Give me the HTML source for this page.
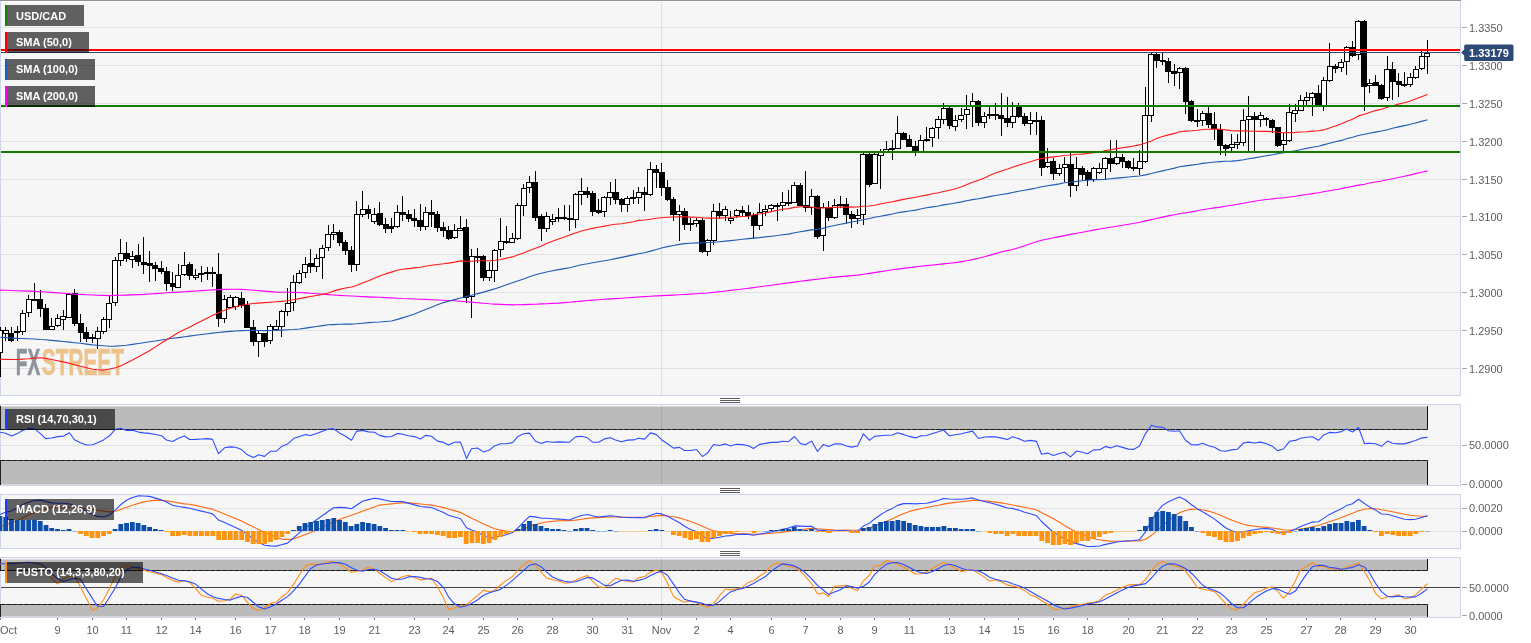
<!DOCTYPE html><html><head><meta charset="utf-8"><title>USD/CAD chart</title><style>
html,body{margin:0;padding:0;background:#fff;width:1531px;height:643px;overflow:hidden}
svg{display:block;will-change:transform}
text{font-family:"Liberation Sans",Arial,sans-serif}
</style></head><body>
<svg width="1531" height="643" viewBox="0 0 1531 643" shape-rendering="crispEdges">
<rect x="0" y="0" width="1531" height="643" fill="#ffffff"/>
<rect x="0.5" y="0.5" width="1460" height="395" fill="#f6f6f6" stroke="#cdd5e8" stroke-width="1"/>
<rect x="0.5" y="404.5" width="1460" height="81" fill="#f6f6f6" stroke="#cdd5e8" stroke-width="1"/>
<rect x="0.5" y="494.5" width="1460" height="54" fill="#f6f6f6" stroke="#cdd5e8" stroke-width="1"/>
<rect x="0.5" y="557.5" width="1460" height="60" fill="#f6f6f6" stroke="#cdd5e8" stroke-width="1"/>
<rect x="0" y="0" width="1461" height="1" fill="#929292"/>
<rect x="1" y="1" width="1459" height="1" fill="#ffffff"/>
<rect x="1" y="27" width="1459" height="1" fill="#e2e2e2"/>
<rect x="1" y="65" width="1459" height="1" fill="#e2e2e2"/>
<rect x="1" y="103" width="1459" height="1" fill="#e2e2e2"/>
<rect x="1" y="141" width="1459" height="1" fill="#e2e2e2"/>
<rect x="1" y="179" width="1459" height="1" fill="#e2e2e2"/>
<rect x="1" y="216" width="1459" height="1" fill="#e2e2e2"/>
<rect x="1" y="254" width="1459" height="1" fill="#e2e2e2"/>
<rect x="1" y="292" width="1459" height="1" fill="#e2e2e2"/>
<rect x="1" y="330" width="1459" height="1" fill="#e2e2e2"/>
<rect x="1" y="368" width="1459" height="1" fill="#e2e2e2"/>
<rect x="661" y="2" width="1" height="393" fill="#e0e0e0"/>
<g font-family="DejaVu Sans Condensed,DejaVu Sans,sans-serif" font-weight="bold" font-size="36">
<text x="15.8" y="374.6" textLength="24.4" lengthAdjust="spacingAndGlyphs" fill="#8f939c" stroke="#8f939c" stroke-width="0.6">FX</text>
<text x="41.8" y="374.6" textLength="82.2" lengthAdjust="spacingAndGlyphs" fill="#edc28d" stroke="#edc28d" stroke-width="0.6">STREET</text>
</g>
<g><rect x="0" y="327" width="1" height="50" fill="#000"/><rect x="-3" y="330" width="6" height="23" fill="#000"/><rect x="5" y="327" width="1" height="14" fill="#000"/><rect x="3" y="330" width="6" height="4" fill="#000"/><rect x="11" y="327" width="1" height="15" fill="#000"/><rect x="8" y="333" width="6" height="8" fill="#000"/><rect x="17" y="326" width="1" height="15" fill="#000"/><rect x="14" y="331" width="6" height="2" fill="#000"/><rect x="22" y="310" width="1" height="25" fill="#000"/><rect x="20" y="313" width="6" height="19" fill="#000"/><rect x="28" y="295" width="1" height="22" fill="#000"/><rect x="26" y="299" width="6" height="14" fill="#000"/><rect x="34" y="283" width="1" height="18" fill="#000"/><rect x="31" y="299" width="6" height="2" fill="#000"/><rect x="40" y="290" width="1" height="27" fill="#000"/><rect x="37" y="299" width="6" height="10" fill="#000"/><rect x="45" y="304" width="1" height="26" fill="#000"/><rect x="43" y="308" width="6" height="22" fill="#000"/><rect x="51" y="318" width="1" height="12" fill="#000"/><rect x="49" y="326" width="6" height="4" fill="#000"/><rect x="57" y="314" width="1" height="13" fill="#000"/><rect x="55" y="318" width="6" height="8" fill="#000"/><rect x="63" y="310" width="1" height="20" fill="#000"/><rect x="60" y="316" width="6" height="4" fill="#000"/><rect x="69" y="293" width="1" height="25" fill="#000"/><rect x="66" y="294" width="6" height="24" fill="#000"/><rect x="74" y="289" width="1" height="37" fill="#000"/><rect x="72" y="293" width="6" height="31" fill="#000"/><rect x="80" y="314" width="1" height="28" fill="#000"/><rect x="78" y="323" width="6" height="10" fill="#000"/><rect x="86" y="327" width="1" height="15" fill="#000"/><rect x="83" y="332" width="6" height="7" fill="#000"/><rect x="92" y="334" width="1" height="9" fill="#000"/><rect x="89" y="337" width="6" height="2" fill="#000"/><rect x="97" y="327" width="1" height="22" fill="#000"/><rect x="95" y="331" width="6" height="8" fill="#000"/><rect x="103" y="317" width="1" height="17" fill="#000"/><rect x="101" y="319" width="6" height="13" fill="#000"/><rect x="109" y="296" width="1" height="32" fill="#000"/><rect x="106" y="303" width="6" height="17" fill="#000"/><rect x="115" y="257" width="1" height="49" fill="#000"/><rect x="112" y="260" width="6" height="43" fill="#000"/><rect x="120" y="239" width="1" height="27" fill="#000"/><rect x="118" y="253" width="6" height="8" fill="#000"/><rect x="126" y="242" width="1" height="20" fill="#000"/><rect x="124" y="253" width="6" height="6" fill="#000"/><rect x="132" y="251" width="1" height="17" fill="#000"/><rect x="129" y="256" width="6" height="4" fill="#000"/><rect x="138" y="244" width="1" height="22" fill="#000"/><rect x="135" y="255" width="6" height="7" fill="#000"/><rect x="143" y="237" width="1" height="37" fill="#000"/><rect x="141" y="262" width="6" height="3" fill="#000"/><rect x="149" y="251" width="1" height="31" fill="#000"/><rect x="147" y="263" width="6" height="3" fill="#000"/><rect x="155" y="262" width="1" height="19" fill="#000"/><rect x="152" y="265" width="6" height="4" fill="#000"/><rect x="161" y="261" width="1" height="13" fill="#000"/><rect x="158" y="268" width="6" height="4" fill="#000"/><rect x="166" y="267" width="1" height="24" fill="#000"/><rect x="164" y="271" width="6" height="13" fill="#000"/><rect x="172" y="272" width="1" height="19" fill="#000"/><rect x="170" y="283" width="6" height="4" fill="#000"/><rect x="178" y="264" width="1" height="24" fill="#000"/><rect x="175" y="275" width="6" height="13" fill="#000"/><rect x="184" y="252" width="1" height="24" fill="#000"/><rect x="181" y="265" width="6" height="10" fill="#000"/><rect x="189" y="262" width="1" height="18" fill="#000"/><rect x="187" y="264" width="6" height="12" fill="#000"/><rect x="195" y="269" width="1" height="11" fill="#000"/><rect x="193" y="275" width="6" height="3" fill="#000"/><rect x="201" y="266" width="1" height="16" fill="#000"/><rect x="198" y="273" width="6" height="2" fill="#000"/><rect x="207" y="267" width="1" height="13" fill="#000"/><rect x="204" y="272" width="6" height="2" fill="#000"/><rect x="212" y="267" width="1" height="20" fill="#000"/><rect x="210" y="272" width="6" height="2" fill="#000"/><rect x="218" y="253" width="1" height="74" fill="#000"/><rect x="216" y="274" width="6" height="45" fill="#000"/><rect x="224" y="295" width="1" height="28" fill="#000"/><rect x="221" y="299" width="6" height="20" fill="#000"/><rect x="230" y="295" width="1" height="13" fill="#000"/><rect x="227" y="297" width="6" height="11" fill="#000"/><rect x="235" y="296" width="1" height="14" fill="#000"/><rect x="233" y="297" width="6" height="10" fill="#000"/><rect x="241" y="292" width="1" height="16" fill="#000"/><rect x="239" y="298" width="6" height="8" fill="#000"/><rect x="247" y="301" width="1" height="27" fill="#000"/><rect x="244" y="305" width="6" height="23" fill="#000"/><rect x="253" y="320" width="1" height="26" fill="#000"/><rect x="250" y="327" width="6" height="15" fill="#000"/><rect x="258" y="331" width="1" height="26" fill="#000"/><rect x="256" y="333" width="6" height="9" fill="#000"/><rect x="264" y="333" width="1" height="14" fill="#000"/><rect x="262" y="333" width="6" height="9" fill="#000"/><rect x="270" y="324" width="1" height="20" fill="#000"/><rect x="267" y="326" width="6" height="15" fill="#000"/><rect x="276" y="320" width="1" height="11" fill="#000"/><rect x="273" y="326" width="6" height="4" fill="#000"/><rect x="281" y="310" width="1" height="27" fill="#000"/><rect x="279" y="311" width="6" height="16" fill="#000"/><rect x="287" y="288" width="1" height="28" fill="#000"/><rect x="285" y="303" width="6" height="9" fill="#000"/><rect x="293" y="275" width="1" height="36" fill="#000"/><rect x="290" y="282" width="6" height="21" fill="#000"/><rect x="299" y="270" width="1" height="14" fill="#000"/><rect x="296" y="273" width="6" height="10" fill="#000"/><rect x="305" y="257" width="1" height="21" fill="#000"/><rect x="302" y="264" width="6" height="9" fill="#000"/><rect x="310" y="249" width="1" height="24" fill="#000"/><rect x="308" y="263" width="6" height="4" fill="#000"/><rect x="316" y="254" width="1" height="18" fill="#000"/><rect x="314" y="258" width="6" height="9" fill="#000"/><rect x="322" y="245" width="1" height="34" fill="#000"/><rect x="319" y="248" width="6" height="10" fill="#000"/><rect x="328" y="225" width="1" height="26" fill="#000"/><rect x="325" y="234" width="6" height="14" fill="#000"/><rect x="333" y="224" width="1" height="16" fill="#000"/><rect x="331" y="232" width="6" height="3" fill="#000"/><rect x="339" y="230" width="1" height="16" fill="#000"/><rect x="337" y="232" width="6" height="11" fill="#000"/><rect x="345" y="240" width="1" height="15" fill="#000"/><rect x="342" y="242" width="6" height="9" fill="#000"/><rect x="351" y="246" width="1" height="26" fill="#000"/><rect x="348" y="250" width="6" height="15" fill="#000"/><rect x="356" y="201" width="1" height="70" fill="#000"/><rect x="354" y="214" width="6" height="51" fill="#000"/><rect x="362" y="191" width="1" height="26" fill="#000"/><rect x="360" y="209" width="6" height="6" fill="#000"/><rect x="368" y="205" width="1" height="14" fill="#000"/><rect x="365" y="209" width="6" height="5" fill="#000"/><rect x="374" y="208" width="1" height="16" fill="#000"/><rect x="371" y="214" width="6" height="8" fill="#000"/><rect x="379" y="202" width="1" height="24" fill="#000"/><rect x="377" y="213" width="6" height="12" fill="#000"/><rect x="385" y="218" width="1" height="15" fill="#000"/><rect x="383" y="224" width="6" height="5" fill="#000"/><rect x="391" y="218" width="1" height="15" fill="#000"/><rect x="388" y="226" width="6" height="3" fill="#000"/><rect x="397" y="205" width="1" height="23" fill="#000"/><rect x="394" y="212" width="6" height="15" fill="#000"/><rect x="402" y="196" width="1" height="25" fill="#000"/><rect x="400" y="212" width="6" height="3" fill="#000"/><rect x="408" y="210" width="1" height="12" fill="#000"/><rect x="406" y="214" width="6" height="5" fill="#000"/><rect x="414" y="209" width="1" height="18" fill="#000"/><rect x="411" y="218" width="6" height="3" fill="#000"/><rect x="420" y="204" width="1" height="27" fill="#000"/><rect x="417" y="220" width="6" height="7" fill="#000"/><rect x="425" y="207" width="1" height="23" fill="#000"/><rect x="423" y="212" width="6" height="15" fill="#000"/><rect x="431" y="200" width="1" height="27" fill="#000"/><rect x="429" y="212" width="6" height="3" fill="#000"/><rect x="437" y="211" width="1" height="21" fill="#000"/><rect x="434" y="214" width="6" height="14" fill="#000"/><rect x="443" y="222" width="1" height="15" fill="#000"/><rect x="440" y="227" width="6" height="4" fill="#000"/><rect x="448" y="226" width="1" height="14" fill="#000"/><rect x="446" y="230" width="6" height="9" fill="#000"/><rect x="454" y="224" width="1" height="15" fill="#000"/><rect x="452" y="230" width="6" height="8" fill="#000"/><rect x="460" y="216" width="1" height="15" fill="#000"/><rect x="457" y="228" width="6" height="3" fill="#000"/><rect x="466" y="219" width="1" height="84" fill="#000"/><rect x="463" y="227" width="6" height="71" fill="#000"/><rect x="471" y="249" width="1" height="69" fill="#000"/><rect x="469" y="256" width="6" height="41" fill="#000"/><rect x="477" y="248" width="1" height="15" fill="#000"/><rect x="475" y="256" width="6" height="2" fill="#000"/><rect x="483" y="255" width="1" height="26" fill="#000"/><rect x="480" y="256" width="6" height="22" fill="#000"/><rect x="489" y="262" width="1" height="19" fill="#000"/><rect x="486" y="270" width="6" height="8" fill="#000"/><rect x="494" y="249" width="1" height="33" fill="#000"/><rect x="492" y="250" width="6" height="21" fill="#000"/><rect x="500" y="218" width="1" height="39" fill="#000"/><rect x="498" y="241" width="6" height="9" fill="#000"/><rect x="506" y="226" width="1" height="18" fill="#000"/><rect x="503" y="241" width="6" height="2" fill="#000"/><rect x="512" y="233" width="1" height="10" fill="#000"/><rect x="509" y="238" width="6" height="5" fill="#000"/><rect x="517" y="203" width="1" height="37" fill="#000"/><rect x="515" y="205" width="6" height="34" fill="#000"/><rect x="523" y="184" width="1" height="32" fill="#000"/><rect x="521" y="188" width="6" height="18" fill="#000"/><rect x="529" y="176" width="1" height="17" fill="#000"/><rect x="526" y="182" width="6" height="6" fill="#000"/><rect x="535" y="171" width="1" height="50" fill="#000"/><rect x="532" y="182" width="6" height="36" fill="#000"/><rect x="541" y="214" width="1" height="27" fill="#000"/><rect x="538" y="216" width="6" height="13" fill="#000"/><rect x="546" y="212" width="1" height="20" fill="#000"/><rect x="544" y="216" width="6" height="13" fill="#000"/><rect x="552" y="214" width="1" height="11" fill="#000"/><rect x="550" y="219" width="6" height="3" fill="#000"/><rect x="558" y="208" width="1" height="14" fill="#000"/><rect x="555" y="217" width="6" height="2" fill="#000"/><rect x="564" y="205" width="1" height="15" fill="#000"/><rect x="561" y="217" width="6" height="2" fill="#000"/><rect x="569" y="205" width="1" height="26" fill="#000"/><rect x="567" y="218" width="6" height="2" fill="#000"/><rect x="575" y="193" width="1" height="35" fill="#000"/><rect x="573" y="194" width="6" height="26" fill="#000"/><rect x="581" y="178" width="1" height="27" fill="#000"/><rect x="578" y="191" width="6" height="4" fill="#000"/><rect x="587" y="187" width="1" height="11" fill="#000"/><rect x="584" y="191" width="6" height="4" fill="#000"/><rect x="592" y="191" width="1" height="25" fill="#000"/><rect x="590" y="193" width="6" height="19" fill="#000"/><rect x="598" y="199" width="1" height="15" fill="#000"/><rect x="596" y="210" width="6" height="3" fill="#000"/><rect x="604" y="196" width="1" height="21" fill="#000"/><rect x="601" y="197" width="6" height="15" fill="#000"/><rect x="610" y="182" width="1" height="23" fill="#000"/><rect x="607" y="192" width="6" height="6" fill="#000"/><rect x="615" y="179" width="1" height="25" fill="#000"/><rect x="613" y="192" width="6" height="8" fill="#000"/><rect x="621" y="198" width="1" height="14" fill="#000"/><rect x="619" y="199" width="6" height="6" fill="#000"/><rect x="627" y="196" width="1" height="16" fill="#000"/><rect x="624" y="198" width="6" height="7" fill="#000"/><rect x="633" y="190" width="1" height="14" fill="#000"/><rect x="630" y="197" width="6" height="2" fill="#000"/><rect x="638" y="187" width="1" height="17" fill="#000"/><rect x="636" y="192" width="6" height="6" fill="#000"/><rect x="644" y="187" width="1" height="24" fill="#000"/><rect x="642" y="192" width="6" height="3" fill="#000"/><rect x="650" y="162" width="1" height="34" fill="#000"/><rect x="647" y="169" width="6" height="26" fill="#000"/><rect x="656" y="165" width="1" height="23" fill="#000"/><rect x="653" y="169" width="6" height="4" fill="#000"/><rect x="661" y="163" width="1" height="33" fill="#000"/><rect x="659" y="172" width="6" height="16" fill="#000"/><rect x="667" y="180" width="1" height="21" fill="#000"/><rect x="665" y="187" width="6" height="13" fill="#000"/><rect x="673" y="197" width="1" height="24" fill="#000"/><rect x="670" y="199" width="6" height="16" fill="#000"/><rect x="679" y="205" width="1" height="36" fill="#000"/><rect x="676" y="211" width="6" height="4" fill="#000"/><rect x="684" y="208" width="1" height="22" fill="#000"/><rect x="682" y="211" width="6" height="14" fill="#000"/><rect x="690" y="218" width="1" height="13" fill="#000"/><rect x="688" y="223" width="6" height="2" fill="#000"/><rect x="696" y="218" width="1" height="9" fill="#000"/><rect x="693" y="220" width="6" height="4" fill="#000"/><rect x="702" y="218" width="1" height="35" fill="#000"/><rect x="699" y="220" width="6" height="32" fill="#000"/><rect x="707" y="239" width="1" height="17" fill="#000"/><rect x="705" y="240" width="6" height="12" fill="#000"/><rect x="713" y="204" width="1" height="41" fill="#000"/><rect x="711" y="211" width="6" height="30" fill="#000"/><rect x="719" y="203" width="1" height="16" fill="#000"/><rect x="716" y="211" width="6" height="5" fill="#000"/><rect x="725" y="206" width="1" height="15" fill="#000"/><rect x="722" y="209" width="6" height="7" fill="#000"/><rect x="730" y="211" width="1" height="13" fill="#000"/><rect x="728" y="218" width="6" height="3" fill="#000"/><rect x="736" y="209" width="1" height="9" fill="#000"/><rect x="734" y="210" width="6" height="6" fill="#000"/><rect x="742" y="206" width="1" height="10" fill="#000"/><rect x="739" y="210" width="6" height="3" fill="#000"/><rect x="748" y="205" width="1" height="14" fill="#000"/><rect x="745" y="212" width="6" height="4" fill="#000"/><rect x="753" y="213" width="1" height="26" fill="#000"/><rect x="751" y="215" width="6" height="11" fill="#000"/><rect x="759" y="203" width="1" height="27" fill="#000"/><rect x="757" y="212" width="6" height="14" fill="#000"/><rect x="765" y="205" width="1" height="11" fill="#000"/><rect x="762" y="209" width="6" height="3" fill="#000"/><rect x="771" y="204" width="1" height="7" fill="#000"/><rect x="768" y="205" width="6" height="4" fill="#000"/><rect x="777" y="203" width="1" height="18" fill="#000"/><rect x="774" y="205" width="6" height="2" fill="#000"/><rect x="782" y="192" width="1" height="19" fill="#000"/><rect x="780" y="202" width="6" height="4" fill="#000"/><rect x="788" y="190" width="1" height="16" fill="#000"/><rect x="786" y="202" width="6" height="2" fill="#000"/><rect x="794" y="182" width="1" height="21" fill="#000"/><rect x="791" y="185" width="6" height="18" fill="#000"/><rect x="800" y="183" width="1" height="23" fill="#000"/><rect x="797" y="185" width="6" height="21" fill="#000"/><rect x="805" y="171" width="1" height="41" fill="#000"/><rect x="803" y="205" width="6" height="3" fill="#000"/><rect x="811" y="189" width="1" height="26" fill="#000"/><rect x="809" y="196" width="6" height="12" fill="#000"/><rect x="817" y="195" width="1" height="44" fill="#000"/><rect x="814" y="196" width="6" height="41" fill="#000"/><rect x="823" y="203" width="1" height="48" fill="#000"/><rect x="820" y="207" width="6" height="29" fill="#000"/><rect x="828" y="201" width="1" height="20" fill="#000"/><rect x="826" y="208" width="6" height="10" fill="#000"/><rect x="834" y="199" width="1" height="20" fill="#000"/><rect x="832" y="205" width="6" height="13" fill="#000"/><rect x="840" y="196" width="1" height="12" fill="#000"/><rect x="837" y="204" width="6" height="2" fill="#000"/><rect x="846" y="198" width="1" height="25" fill="#000"/><rect x="843" y="204" width="6" height="11" fill="#000"/><rect x="851" y="211" width="1" height="17" fill="#000"/><rect x="849" y="214" width="6" height="5" fill="#000"/><rect x="857" y="209" width="1" height="15" fill="#000"/><rect x="855" y="215" width="6" height="4" fill="#000"/><rect x="863" y="152" width="1" height="73" fill="#000"/><rect x="860" y="154" width="6" height="61" fill="#000"/><rect x="869" y="152" width="1" height="35" fill="#000"/><rect x="866" y="154" width="6" height="31" fill="#000"/><rect x="874" y="152" width="1" height="32" fill="#000"/><rect x="872" y="154" width="6" height="30" fill="#000"/><rect x="880" y="149" width="1" height="40" fill="#000"/><rect x="878" y="151" width="6" height="5" fill="#000"/><rect x="886" y="141" width="1" height="11" fill="#000"/><rect x="883" y="149" width="6" height="3" fill="#000"/><rect x="892" y="140" width="1" height="20" fill="#000"/><rect x="889" y="148" width="6" height="2" fill="#000"/><rect x="897" y="116" width="1" height="33" fill="#000"/><rect x="895" y="133" width="6" height="16" fill="#000"/><rect x="903" y="132" width="1" height="8" fill="#000"/><rect x="901" y="133" width="6" height="7" fill="#000"/><rect x="909" y="135" width="1" height="12" fill="#000"/><rect x="906" y="139" width="6" height="8" fill="#000"/><rect x="915" y="141" width="1" height="15" fill="#000"/><rect x="912" y="146" width="6" height="6" fill="#000"/><rect x="920" y="135" width="1" height="17" fill="#000"/><rect x="918" y="140" width="6" height="12" fill="#000"/><rect x="926" y="127" width="1" height="15" fill="#000"/><rect x="924" y="139" width="6" height="2" fill="#000"/><rect x="932" y="127" width="1" height="20" fill="#000"/><rect x="929" y="128" width="6" height="10" fill="#000"/><rect x="938" y="116" width="1" height="23" fill="#000"/><rect x="935" y="119" width="6" height="9" fill="#000"/><rect x="943" y="103" width="1" height="21" fill="#000"/><rect x="941" y="108" width="6" height="12" fill="#000"/><rect x="949" y="107" width="1" height="22" fill="#000"/><rect x="947" y="108" width="6" height="18" fill="#000"/><rect x="955" y="115" width="1" height="16" fill="#000"/><rect x="952" y="120" width="6" height="7" fill="#000"/><rect x="961" y="108" width="1" height="14" fill="#000"/><rect x="958" y="115" width="6" height="5" fill="#000"/><rect x="966" y="95" width="1" height="34" fill="#000"/><rect x="964" y="109" width="6" height="6" fill="#000"/><rect x="972" y="93" width="1" height="34" fill="#000"/><rect x="970" y="101" width="6" height="5" fill="#000"/><rect x="978" y="100" width="1" height="26" fill="#000"/><rect x="975" y="101" width="6" height="22" fill="#000"/><rect x="984" y="112" width="1" height="16" fill="#000"/><rect x="981" y="116" width="6" height="7" fill="#000"/><rect x="989" y="107" width="1" height="12" fill="#000"/><rect x="987" y="114" width="6" height="2" fill="#000"/><rect x="995" y="103" width="1" height="17" fill="#000"/><rect x="993" y="114" width="6" height="2" fill="#000"/><rect x="1001" y="93" width="1" height="43" fill="#000"/><rect x="998" y="115" width="6" height="4" fill="#000"/><rect x="1007" y="97" width="1" height="30" fill="#000"/><rect x="1004" y="118" width="6" height="5" fill="#000"/><rect x="1012" y="102" width="1" height="26" fill="#000"/><rect x="1010" y="116" width="6" height="7" fill="#000"/><rect x="1018" y="103" width="1" height="15" fill="#000"/><rect x="1016" y="107" width="6" height="10" fill="#000"/><rect x="1024" y="113" width="1" height="13" fill="#000"/><rect x="1022" y="116" width="6" height="8" fill="#000"/><rect x="1030" y="112" width="1" height="23" fill="#000"/><rect x="1027" y="120" width="6" height="4" fill="#000"/><rect x="1036" y="112" width="1" height="23" fill="#000"/><rect x="1033" y="120" width="6" height="2" fill="#000"/><rect x="1041" y="116" width="1" height="60" fill="#000"/><rect x="1039" y="120" width="6" height="48" fill="#000"/><rect x="1047" y="148" width="1" height="20" fill="#000"/><rect x="1045" y="162" width="6" height="5" fill="#000"/><rect x="1053" y="158" width="1" height="22" fill="#000"/><rect x="1050" y="161" width="6" height="13" fill="#000"/><rect x="1059" y="164" width="1" height="12" fill="#000"/><rect x="1056" y="168" width="6" height="6" fill="#000"/><rect x="1064" y="157" width="1" height="25" fill="#000"/><rect x="1062" y="164" width="6" height="4" fill="#000"/><rect x="1070" y="151" width="1" height="46" fill="#000"/><rect x="1068" y="164" width="6" height="22" fill="#000"/><rect x="1076" y="157" width="1" height="34" fill="#000"/><rect x="1073" y="168" width="6" height="18" fill="#000"/><rect x="1082" y="166" width="1" height="14" fill="#000"/><rect x="1079" y="168" width="6" height="7" fill="#000"/><rect x="1087" y="170" width="1" height="16" fill="#000"/><rect x="1085" y="172" width="6" height="8" fill="#000"/><rect x="1093" y="167" width="1" height="15" fill="#000"/><rect x="1091" y="168" width="6" height="12" fill="#000"/><rect x="1099" y="163" width="1" height="11" fill="#000"/><rect x="1096" y="168" width="6" height="5" fill="#000"/><rect x="1105" y="157" width="1" height="23" fill="#000"/><rect x="1102" y="158" width="6" height="11" fill="#000"/><rect x="1110" y="140" width="1" height="32" fill="#000"/><rect x="1108" y="158" width="6" height="6" fill="#000"/><rect x="1116" y="140" width="1" height="25" fill="#000"/><rect x="1114" y="157" width="6" height="7" fill="#000"/><rect x="1122" y="154" width="1" height="14" fill="#000"/><rect x="1119" y="157" width="6" height="5" fill="#000"/><rect x="1128" y="160" width="1" height="9" fill="#000"/><rect x="1125" y="161" width="6" height="7" fill="#000"/><rect x="1133" y="158" width="1" height="13" fill="#000"/><rect x="1131" y="167" width="6" height="2" fill="#000"/><rect x="1139" y="150" width="1" height="25" fill="#000"/><rect x="1137" y="161" width="6" height="8" fill="#000"/><rect x="1145" y="87" width="1" height="76" fill="#000"/><rect x="1142" y="115" width="6" height="47" fill="#000"/><rect x="1151" y="53" width="1" height="69" fill="#000"/><rect x="1148" y="54" width="6" height="62" fill="#000"/><rect x="1156" y="52" width="1" height="16" fill="#000"/><rect x="1154" y="54" width="6" height="7" fill="#000"/><rect x="1162" y="52" width="1" height="13" fill="#000"/><rect x="1160" y="60" width="6" height="2" fill="#000"/><rect x="1168" y="58" width="1" height="25" fill="#000"/><rect x="1165" y="61" width="6" height="11" fill="#000"/><rect x="1174" y="64" width="1" height="22" fill="#000"/><rect x="1171" y="71" width="6" height="3" fill="#000"/><rect x="1179" y="67" width="1" height="22" fill="#000"/><rect x="1177" y="68" width="6" height="5" fill="#000"/><rect x="1185" y="67" width="1" height="47" fill="#000"/><rect x="1183" y="68" width="6" height="34" fill="#000"/><rect x="1191" y="100" width="1" height="22" fill="#000"/><rect x="1188" y="101" width="6" height="20" fill="#000"/><rect x="1197" y="109" width="1" height="18" fill="#000"/><rect x="1194" y="120" width="6" height="2" fill="#000"/><rect x="1202" y="111" width="1" height="15" fill="#000"/><rect x="1200" y="113" width="6" height="8" fill="#000"/><rect x="1208" y="107" width="1" height="21" fill="#000"/><rect x="1206" y="113" width="6" height="12" fill="#000"/><rect x="1214" y="112" width="1" height="28" fill="#000"/><rect x="1211" y="124" width="6" height="5" fill="#000"/><rect x="1220" y="124" width="1" height="31" fill="#000"/><rect x="1217" y="129" width="6" height="17" fill="#000"/><rect x="1225" y="144" width="1" height="12" fill="#000"/><rect x="1223" y="145" width="6" height="4" fill="#000"/><rect x="1231" y="134" width="1" height="17" fill="#000"/><rect x="1229" y="144" width="6" height="4" fill="#000"/><rect x="1237" y="134" width="1" height="15" fill="#000"/><rect x="1234" y="142" width="6" height="3" fill="#000"/><rect x="1243" y="109" width="1" height="37" fill="#000"/><rect x="1240" y="120" width="6" height="23" fill="#000"/><rect x="1248" y="96" width="1" height="55" fill="#000"/><rect x="1246" y="116" width="6" height="4" fill="#000"/><rect x="1254" y="112" width="1" height="39" fill="#000"/><rect x="1252" y="116" width="6" height="4" fill="#000"/><rect x="1260" y="112" width="1" height="15" fill="#000"/><rect x="1258" y="115" width="6" height="5" fill="#000"/><rect x="1266" y="117" width="1" height="9" fill="#000"/><rect x="1263" y="118" width="6" height="2" fill="#000"/><rect x="1272" y="119" width="1" height="14" fill="#000"/><rect x="1269" y="120" width="6" height="8" fill="#000"/><rect x="1277" y="127" width="1" height="20" fill="#000"/><rect x="1275" y="127" width="6" height="19" fill="#000"/><rect x="1283" y="133" width="1" height="19" fill="#000"/><rect x="1281" y="140" width="6" height="5" fill="#000"/><rect x="1289" y="104" width="1" height="38" fill="#000"/><rect x="1286" y="112" width="6" height="29" fill="#000"/><rect x="1295" y="104" width="1" height="18" fill="#000"/><rect x="1292" y="110" width="6" height="4" fill="#000"/><rect x="1300" y="95" width="1" height="16" fill="#000"/><rect x="1298" y="100" width="6" height="11" fill="#000"/><rect x="1306" y="92" width="1" height="13" fill="#000"/><rect x="1304" y="97" width="6" height="4" fill="#000"/><rect x="1312" y="92" width="1" height="24" fill="#000"/><rect x="1309" y="93" width="6" height="5" fill="#000"/><rect x="1318" y="85" width="1" height="22" fill="#000"/><rect x="1315" y="93" width="6" height="13" fill="#000"/><rect x="1323" y="77" width="1" height="34" fill="#000"/><rect x="1321" y="80" width="6" height="26" fill="#000"/><rect x="1329" y="43" width="1" height="39" fill="#000"/><rect x="1327" y="66" width="6" height="15" fill="#000"/><rect x="1335" y="64" width="1" height="9" fill="#000"/><rect x="1332" y="66" width="6" height="3" fill="#000"/><rect x="1341" y="59" width="1" height="13" fill="#000"/><rect x="1338" y="62" width="6" height="6" fill="#000"/><rect x="1346" y="46" width="1" height="29" fill="#000"/><rect x="1344" y="47" width="6" height="15" fill="#000"/><rect x="1352" y="41" width="1" height="16" fill="#000"/><rect x="1350" y="47" width="6" height="9" fill="#000"/><rect x="1358" y="20" width="1" height="40" fill="#000"/><rect x="1355" y="21" width="6" height="34" fill="#000"/><rect x="1364" y="20" width="1" height="91" fill="#000"/><rect x="1361" y="21" width="6" height="66" fill="#000"/><rect x="1369" y="79" width="1" height="14" fill="#000"/><rect x="1367" y="83" width="6" height="3" fill="#000"/><rect x="1375" y="75" width="1" height="11" fill="#000"/><rect x="1373" y="82" width="6" height="4" fill="#000"/><rect x="1381" y="84" width="1" height="16" fill="#000"/><rect x="1378" y="85" width="6" height="14" fill="#000"/><rect x="1387" y="56" width="1" height="45" fill="#000"/><rect x="1384" y="69" width="6" height="29" fill="#000"/><rect x="1392" y="62" width="1" height="38" fill="#000"/><rect x="1390" y="69" width="6" height="13" fill="#000"/><rect x="1398" y="73" width="1" height="24" fill="#000"/><rect x="1396" y="81" width="6" height="4" fill="#000"/><rect x="1404" y="72" width="1" height="15" fill="#000"/><rect x="1401" y="84" width="6" height="2" fill="#000"/><rect x="1410" y="73" width="1" height="14" fill="#000"/><rect x="1407" y="77" width="6" height="8" fill="#000"/><rect x="1415" y="66" width="1" height="13" fill="#000"/><rect x="1413" y="69" width="6" height="9" fill="#000"/><rect x="1421" y="51" width="1" height="19" fill="#000"/><rect x="1419" y="56" width="6" height="13" fill="#000"/><rect x="1427" y="40" width="1" height="34" fill="#000"/><rect x="1424" y="53" width="6" height="4" fill="#000"/><rect x="-2" y="331" width="4" height="21" fill="#fff"/><rect x="4" y="331" width="4" height="2" fill="#fff"/><rect x="21" y="314" width="4" height="17" fill="#fff"/><rect x="27" y="300" width="4" height="12" fill="#fff"/><rect x="50" y="327" width="4" height="2" fill="#fff"/><rect x="56" y="319" width="4" height="6" fill="#fff"/><rect x="61" y="317" width="4" height="2" fill="#fff"/><rect x="67" y="295" width="4" height="22" fill="#fff"/><rect x="96" y="332" width="4" height="6" fill="#fff"/><rect x="102" y="320" width="4" height="11" fill="#fff"/><rect x="107" y="304" width="4" height="15" fill="#fff"/><rect x="113" y="261" width="4" height="41" fill="#fff"/><rect x="119" y="254" width="4" height="6" fill="#fff"/><rect x="130" y="257" width="4" height="2" fill="#fff"/><rect x="176" y="276" width="4" height="11" fill="#fff"/><rect x="182" y="266" width="4" height="8" fill="#fff"/><rect x="194" y="276" width="4" height="1" fill="#fff"/><rect x="222" y="300" width="4" height="18" fill="#fff"/><rect x="228" y="298" width="4" height="9" fill="#fff"/><rect x="234" y="298" width="4" height="8" fill="#fff"/><rect x="257" y="334" width="4" height="7" fill="#fff"/><rect x="268" y="327" width="4" height="13" fill="#fff"/><rect x="274" y="327" width="4" height="2" fill="#fff"/><rect x="280" y="312" width="4" height="14" fill="#fff"/><rect x="286" y="304" width="4" height="7" fill="#fff"/><rect x="291" y="283" width="4" height="19" fill="#fff"/><rect x="297" y="274" width="4" height="8" fill="#fff"/><rect x="303" y="265" width="4" height="7" fill="#fff"/><rect x="315" y="259" width="4" height="7" fill="#fff"/><rect x="320" y="249" width="4" height="8" fill="#fff"/><rect x="326" y="235" width="4" height="12" fill="#fff"/><rect x="332" y="233" width="4" height="1" fill="#fff"/><rect x="355" y="215" width="4" height="49" fill="#fff"/><rect x="361" y="210" width="4" height="4" fill="#fff"/><rect x="372" y="215" width="4" height="6" fill="#fff"/><rect x="395" y="213" width="4" height="13" fill="#fff"/><rect x="424" y="213" width="4" height="13" fill="#fff"/><rect x="453" y="231" width="4" height="6" fill="#fff"/><rect x="458" y="229" width="4" height="1" fill="#fff"/><rect x="470" y="257" width="4" height="39" fill="#fff"/><rect x="487" y="271" width="4" height="6" fill="#fff"/><rect x="493" y="251" width="4" height="19" fill="#fff"/><rect x="499" y="242" width="4" height="7" fill="#fff"/><rect x="510" y="239" width="4" height="3" fill="#fff"/><rect x="516" y="206" width="4" height="32" fill="#fff"/><rect x="522" y="189" width="4" height="16" fill="#fff"/><rect x="527" y="183" width="4" height="4" fill="#fff"/><rect x="545" y="217" width="4" height="11" fill="#fff"/><rect x="551" y="220" width="4" height="1" fill="#fff"/><rect x="574" y="195" width="4" height="24" fill="#fff"/><rect x="579" y="192" width="4" height="2" fill="#fff"/><rect x="602" y="198" width="4" height="13" fill="#fff"/><rect x="608" y="193" width="4" height="4" fill="#fff"/><rect x="625" y="199" width="4" height="5" fill="#fff"/><rect x="637" y="193" width="4" height="4" fill="#fff"/><rect x="648" y="170" width="4" height="24" fill="#fff"/><rect x="677" y="212" width="4" height="2" fill="#fff"/><rect x="694" y="221" width="4" height="2" fill="#fff"/><rect x="706" y="241" width="4" height="10" fill="#fff"/><rect x="712" y="212" width="4" height="28" fill="#fff"/><rect x="723" y="210" width="4" height="5" fill="#fff"/><rect x="729" y="219" width="4" height="1" fill="#fff"/><rect x="735" y="211" width="4" height="4" fill="#fff"/><rect x="758" y="213" width="4" height="12" fill="#fff"/><rect x="763" y="210" width="4" height="1" fill="#fff"/><rect x="769" y="206" width="4" height="2" fill="#fff"/><rect x="781" y="203" width="4" height="2" fill="#fff"/><rect x="792" y="186" width="4" height="16" fill="#fff"/><rect x="810" y="197" width="4" height="10" fill="#fff"/><rect x="821" y="208" width="4" height="27" fill="#fff"/><rect x="833" y="206" width="4" height="11" fill="#fff"/><rect x="856" y="216" width="4" height="2" fill="#fff"/><rect x="861" y="155" width="4" height="59" fill="#fff"/><rect x="873" y="155" width="4" height="28" fill="#fff"/><rect x="879" y="152" width="4" height="3" fill="#fff"/><rect x="884" y="150" width="4" height="1" fill="#fff"/><rect x="896" y="134" width="4" height="14" fill="#fff"/><rect x="919" y="141" width="4" height="10" fill="#fff"/><rect x="930" y="129" width="4" height="8" fill="#fff"/><rect x="936" y="120" width="4" height="7" fill="#fff"/><rect x="942" y="109" width="4" height="10" fill="#fff"/><rect x="953" y="121" width="4" height="5" fill="#fff"/><rect x="959" y="116" width="4" height="3" fill="#fff"/><rect x="965" y="110" width="4" height="4" fill="#fff"/><rect x="971" y="102" width="4" height="3" fill="#fff"/><rect x="982" y="117" width="4" height="5" fill="#fff"/><rect x="1011" y="117" width="4" height="5" fill="#fff"/><rect x="1028" y="121" width="4" height="2" fill="#fff"/><rect x="1046" y="163" width="4" height="3" fill="#fff"/><rect x="1057" y="169" width="4" height="4" fill="#fff"/><rect x="1063" y="165" width="4" height="2" fill="#fff"/><rect x="1074" y="169" width="4" height="16" fill="#fff"/><rect x="1092" y="169" width="4" height="10" fill="#fff"/><rect x="1097" y="169" width="4" height="3" fill="#fff"/><rect x="1103" y="159" width="4" height="9" fill="#fff"/><rect x="1115" y="158" width="4" height="5" fill="#fff"/><rect x="1138" y="162" width="4" height="6" fill="#fff"/><rect x="1143" y="116" width="4" height="45" fill="#fff"/><rect x="1149" y="55" width="4" height="60" fill="#fff"/><rect x="1178" y="69" width="4" height="3" fill="#fff"/><rect x="1201" y="114" width="4" height="6" fill="#fff"/><rect x="1230" y="145" width="4" height="2" fill="#fff"/><rect x="1235" y="143" width="4" height="1" fill="#fff"/><rect x="1241" y="121" width="4" height="21" fill="#fff"/><rect x="1247" y="117" width="4" height="2" fill="#fff"/><rect x="1259" y="116" width="4" height="3" fill="#fff"/><rect x="1282" y="141" width="4" height="3" fill="#fff"/><rect x="1287" y="113" width="4" height="27" fill="#fff"/><rect x="1293" y="111" width="4" height="2" fill="#fff"/><rect x="1299" y="101" width="4" height="9" fill="#fff"/><rect x="1305" y="98" width="4" height="2" fill="#fff"/><rect x="1310" y="94" width="4" height="3" fill="#fff"/><rect x="1322" y="81" width="4" height="24" fill="#fff"/><rect x="1328" y="67" width="4" height="13" fill="#fff"/><rect x="1339" y="63" width="4" height="4" fill="#fff"/><rect x="1345" y="48" width="4" height="13" fill="#fff"/><rect x="1356" y="22" width="4" height="32" fill="#fff"/><rect x="1368" y="84" width="4" height="1" fill="#fff"/><rect x="1385" y="70" width="4" height="27" fill="#fff"/><rect x="1408" y="78" width="4" height="6" fill="#fff"/><rect x="1414" y="70" width="4" height="7" fill="#fff"/><rect x="1420" y="57" width="4" height="11" fill="#fff"/><rect x="1425" y="54" width="4" height="2" fill="#fff"/></g>
<polyline points="0.0,290.1 5.5,290.3 11.5,290.5 17.5,290.7 22.5,290.9 28.5,291.1 34.5,291.4 40.5,291.7 45.5,292.0 51.5,292.4 57.5,292.9 63.5,293.3 69.5,293.7 74.5,294.1 80.5,294.4 86.5,294.7 92.5,295.0 97.5,295.2 103.5,295.4 109.5,295.6 115.5,295.4 120.5,295.3 126.5,295.1 132.5,294.9 138.5,294.6 143.5,294.4 149.5,294.0 155.5,293.6 161.5,293.2 166.5,292.8 172.5,292.4 178.5,292.1 184.5,291.7 189.5,291.4 195.5,291.0 201.5,290.6 207.5,290.2 212.5,289.9 218.5,289.6 224.5,289.4 230.5,289.3 235.5,289.3 241.5,289.4 247.5,289.8 253.5,290.2 258.5,290.6 264.5,291.1 270.5,291.6 276.5,292.1 281.5,292.2 287.5,292.3 293.5,292.4 299.5,292.5 305.5,292.9 310.5,293.2 316.5,293.7 322.5,294.1 328.5,294.6 333.5,295.0 339.5,295.4 345.5,295.7 351.5,296.0 356.5,296.3 362.5,296.6 368.5,296.9 374.5,297.1 379.5,297.3 385.5,297.6 391.5,297.9 397.5,298.2 402.5,298.5 408.5,298.7 414.5,299.0 420.5,299.2 425.5,299.4 431.5,299.7 437.5,300.0 443.5,300.3 448.5,300.5 454.5,300.8 460.5,301.2 466.5,301.7 471.5,302.1 477.5,302.7 483.5,303.3 489.5,303.8 494.5,304.1 500.5,304.4 506.5,304.6 512.5,304.9 517.5,304.8 523.5,304.6 529.5,304.4 535.5,304.2 541.5,303.9 546.5,303.7 552.5,303.4 558.5,303.1 564.5,302.6 569.5,302.2 575.5,301.6 581.5,301.1 587.5,300.5 592.5,300.1 598.5,299.7 604.5,299.3 610.5,298.9 615.5,298.6 621.5,298.2 627.5,297.8 633.5,297.4 638.5,297.0 644.5,296.6 650.5,296.2 656.5,295.9 661.5,295.6 667.5,295.4 673.5,295.1 679.5,294.8 684.5,294.5 690.5,294.1 696.5,293.7 702.5,293.3 707.5,293.0 713.5,292.4 719.5,291.7 725.5,291.0 730.5,290.4 736.5,289.8 742.5,289.0 748.5,288.2 753.5,287.6 759.5,286.8 765.5,286.0 771.5,285.2 777.5,284.4 782.5,283.7 788.5,282.9 794.5,282.1 800.5,281.3 805.5,280.6 811.5,279.9 817.5,279.2 823.5,278.4 828.5,277.8 834.5,277.1 840.5,276.6 846.5,276.1 851.5,275.6 857.5,275.1 863.5,274.3 869.5,273.4 874.5,272.6 880.5,271.6 886.5,270.7 892.5,269.8 897.5,269.1 903.5,268.4 909.5,267.6 915.5,266.9 920.5,266.3 926.5,265.6 932.5,265.0 938.5,264.4 943.5,263.9 949.5,263.3 955.5,262.6 961.5,261.6 966.5,260.7 972.5,259.6 978.5,258.2 984.5,256.8 989.5,255.4 995.5,253.6 1001.5,251.8 1007.5,250.6 1012.5,249.5 1018.5,247.8 1024.5,245.8 1030.5,243.8 1036.5,241.8 1041.5,240.2 1047.5,239.0 1053.5,237.8 1059.5,236.6 1064.5,235.6 1070.5,234.4 1076.5,233.3 1082.5,232.2 1087.5,231.3 1093.5,230.1 1099.5,229.0 1105.5,228.0 1110.5,227.2 1116.5,226.2 1122.5,225.3 1128.5,224.3 1133.5,223.5 1139.5,222.3 1145.5,220.9 1151.5,219.6 1156.5,218.5 1162.5,217.1 1168.5,215.9 1174.5,214.8 1179.5,213.8 1185.5,212.8 1191.5,211.9 1197.5,210.8 1202.5,209.8 1208.5,208.8 1214.5,207.9 1220.5,207.1 1225.5,206.2 1231.5,205.3 1237.5,204.3 1243.5,203.2 1248.5,202.2 1254.5,201.2 1260.5,200.2 1266.5,199.5 1272.5,198.9 1277.5,198.3 1283.5,197.7 1289.5,197.0 1295.5,196.2 1300.5,195.4 1306.5,194.5 1312.5,193.6 1318.5,192.8 1323.5,191.7 1329.5,190.7 1335.5,189.7 1341.5,188.6 1346.5,187.5 1352.5,186.4 1358.5,185.1 1364.5,184.2 1369.5,183.0 1375.5,182.0 1381.5,181.0 1387.5,179.8 1392.5,178.7 1398.5,177.5 1404.5,176.2 1410.5,174.9 1415.5,173.6 1421.5,172.2 1427.5,170.9" fill="none" stroke="#ff00ff" stroke-width="1.1" stroke-linejoin="round" shape-rendering="auto"/>
<polyline points="0.0,337.2 5.5,337.6 11.5,338.0 17.5,338.4 22.5,338.5 28.5,338.7 34.5,339.0 40.5,339.5 45.5,339.8 51.5,340.4 57.5,340.9 63.5,341.5 69.5,342.1 74.5,342.7 80.5,343.3 86.5,344.1 92.5,344.9 97.5,345.3 103.5,345.8 109.5,346.3 115.5,346.1 120.5,345.7 126.5,345.2 132.5,344.4 138.5,343.5 143.5,342.7 149.5,341.8 155.5,341.0 161.5,340.0 166.5,339.3 172.5,338.3 178.5,337.6 184.5,336.8 189.5,336.1 195.5,335.3 201.5,334.5 207.5,333.7 212.5,333.1 218.5,332.5 224.5,331.9 230.5,331.4 235.5,331.0 241.5,330.6 247.5,330.5 253.5,330.3 258.5,330.5 264.5,330.6 270.5,330.5 276.5,330.3 281.5,330.1 287.5,329.8 293.5,329.5 299.5,329.0 305.5,328.1 310.5,327.4 316.5,326.5 322.5,325.6 328.5,324.8 333.5,324.6 339.5,324.3 345.5,324.1 351.5,324.1 356.5,323.8 362.5,323.2 368.5,322.6 374.5,322.2 379.5,322.0 385.5,321.5 391.5,321.0 397.5,319.4 402.5,317.9 408.5,316.0 414.5,313.9 420.5,311.6 425.5,309.6 431.5,307.2 437.5,304.8 443.5,302.6 448.5,301.2 454.5,299.6 460.5,298.0 466.5,296.5 471.5,295.2 477.5,293.6 483.5,292.1 489.5,290.4 494.5,288.9 500.5,286.9 506.5,284.8 512.5,282.7 517.5,281.0 523.5,278.9 529.5,276.8 535.5,274.8 541.5,273.3 546.5,272.0 552.5,270.8 558.5,269.6 564.5,268.6 569.5,267.8 575.5,266.3 581.5,264.8 587.5,263.8 592.5,262.8 598.5,261.8 604.5,260.8 610.5,259.7 615.5,258.6 621.5,257.4 627.5,256.1 633.5,254.9 638.5,253.7 644.5,252.7 650.5,251.1 656.5,249.5 661.5,248.0 667.5,246.6 673.5,245.5 679.5,244.4 684.5,243.6 690.5,243.2 696.5,242.9 702.5,242.8 707.5,242.7 713.5,242.2 719.5,241.7 725.5,241.1 730.5,240.6 736.5,240.0 742.5,239.3 748.5,238.6 753.5,238.1 759.5,237.6 765.5,236.9 771.5,236.2 777.5,235.5 782.5,234.8 788.5,234.1 794.5,232.8 800.5,231.8 805.5,230.9 811.5,229.9 817.5,229.2 823.5,228.1 828.5,226.8 834.5,225.5 840.5,224.2 846.5,223.1 851.5,222.0 857.5,221.0 863.5,219.5 869.5,218.5 874.5,217.3 880.5,216.2 886.5,215.1 892.5,214.0 897.5,212.8 903.5,211.9 909.5,211.0 915.5,210.1 920.5,209.0 926.5,207.7 932.5,206.9 938.5,206.0 943.5,204.9 949.5,204.0 955.5,203.0 961.5,201.9 966.5,200.7 972.5,199.6 978.5,198.7 984.5,197.6 989.5,196.6 995.5,195.5 1001.5,194.5 1007.5,193.6 1012.5,192.5 1018.5,191.3 1024.5,190.2 1030.5,189.1 1036.5,188.0 1041.5,186.7 1047.5,185.8 1053.5,184.9 1059.5,183.9 1064.5,182.8 1070.5,182.2 1076.5,181.4 1082.5,180.8 1087.5,180.2 1093.5,179.8 1099.5,179.6 1105.5,179.3 1110.5,178.8 1116.5,178.1 1122.5,177.6 1128.5,177.0 1133.5,176.5 1139.5,176.0 1145.5,174.9 1151.5,173.5 1156.5,172.2 1162.5,170.9 1168.5,169.5 1174.5,168.1 1179.5,166.8 1185.5,165.9 1191.5,165.1 1197.5,164.3 1202.5,163.4 1208.5,162.7 1214.5,162.0 1220.5,161.6 1225.5,161.3 1231.5,161.1 1237.5,160.6 1243.5,159.8 1248.5,158.8 1254.5,157.9 1260.5,156.8 1266.5,155.8 1272.5,154.8 1277.5,153.8 1283.5,152.8 1289.5,151.8 1295.5,150.8 1300.5,149.7 1306.5,148.4 1312.5,147.3 1318.5,146.2 1323.5,144.9 1329.5,143.3 1335.5,141.8 1341.5,140.4 1346.5,138.8 1352.5,137.3 1358.5,135.5 1364.5,134.3 1369.5,133.3 1375.5,132.1 1381.5,131.0 1387.5,129.7 1392.5,128.2 1398.5,126.9 1404.5,125.6 1410.5,124.3 1415.5,123.0 1421.5,121.4 1427.5,119.7" fill="none" stroke="#1f5bb5" stroke-width="1.1" stroke-linejoin="round" shape-rendering="auto"/>
<polyline points="0.0,359.3 5.5,359.4 11.5,359.5 17.5,359.5 22.5,359.1 28.5,358.7 34.5,358.1 40.5,357.8 45.5,358.4 51.5,359.5 57.5,360.7 63.5,361.9 69.5,363.4 74.5,364.7 80.5,366.2 86.5,367.7 92.5,369.2 97.5,369.7 103.5,370.1 109.5,369.0 115.5,367.7 120.5,366.0 126.5,363.0 132.5,360.0 138.5,356.8 143.5,354.0 149.5,350.7 155.5,346.9 161.5,343.0 166.5,339.8 172.5,336.2 178.5,332.5 184.5,329.5 189.5,327.2 195.5,324.1 201.5,320.9 207.5,317.9 212.5,315.4 218.5,312.7 224.5,310.3 230.5,308.2 235.5,306.7 241.5,305.2 247.5,304.3 253.5,303.5 258.5,303.1 264.5,302.6 270.5,302.2 276.5,301.7 281.5,301.4 287.5,300.8 293.5,299.8 299.5,298.6 305.5,297.4 310.5,296.5 316.5,295.5 322.5,294.5 328.5,293.0 333.5,291.1 339.5,289.4 345.5,288.0 351.5,287.0 356.5,285.4 362.5,283.1 368.5,280.7 374.5,278.2 379.5,276.0 385.5,273.9 391.5,272.1 397.5,270.3 402.5,269.3 408.5,268.6 414.5,267.9 420.5,267.3 425.5,266.3 431.5,265.3 437.5,264.5 443.5,263.8 448.5,263.1 454.5,262.1 460.5,260.9 466.5,261.3 471.5,261.2 477.5,260.8 483.5,260.8 489.5,260.8 494.5,260.3 500.5,259.7 506.5,258.1 512.5,256.9 517.5,255.1 523.5,252.9 529.5,250.4 535.5,248.2 541.5,246.0 546.5,243.6 552.5,241.2 558.5,239.0 564.5,236.9 569.5,235.0 575.5,232.9 581.5,231.0 587.5,229.5 592.5,228.4 598.5,227.3 604.5,226.1 610.5,225.0 615.5,224.3 621.5,223.7 627.5,222.8 633.5,221.8 638.5,220.4 644.5,220.0 650.5,219.2 656.5,218.3 661.5,217.8 667.5,217.3 673.5,217.0 679.5,216.7 684.5,216.9 690.5,217.1 696.5,217.2 702.5,217.8 707.5,218.1 713.5,218.0 719.5,218.1 725.5,217.7 730.5,217.5 736.5,216.9 742.5,216.5 748.5,216.3 753.5,214.8 759.5,214.0 765.5,213.0 771.5,211.6 777.5,210.3 782.5,209.3 788.5,208.6 794.5,207.4 800.5,206.8 805.5,206.8 811.5,207.0 817.5,208.1 823.5,207.9 828.5,207.6 834.5,207.4 840.5,207.1 846.5,207.1 851.5,207.1 857.5,207.0 863.5,206.2 869.5,206.0 874.5,205.2 880.5,204.0 886.5,202.8 892.5,201.8 897.5,200.6 903.5,199.4 909.5,198.3 915.5,197.3 920.5,196.2 926.5,195.1 932.5,193.8 938.5,192.8 943.5,191.5 949.5,190.3 955.5,188.7 961.5,186.7 966.5,184.7 972.5,182.2 978.5,180.2 984.5,178.1 989.5,175.4 995.5,172.9 1001.5,171.0 1007.5,169.1 1012.5,167.3 1018.5,165.2 1024.5,163.5 1030.5,161.7 1036.5,159.8 1041.5,158.6 1047.5,157.6 1053.5,156.9 1059.5,156.2 1064.5,155.3 1070.5,155.0 1076.5,154.3 1082.5,154.1 1087.5,153.5 1093.5,152.8 1099.5,152.2 1105.5,150.6 1110.5,149.8 1116.5,148.6 1122.5,147.7 1128.5,146.9 1133.5,146.0 1139.5,144.9 1145.5,142.9 1151.5,140.9 1156.5,138.4 1162.5,136.5 1168.5,134.9 1174.5,133.4 1179.5,131.8 1185.5,131.1 1191.5,130.8 1197.5,130.3 1202.5,129.5 1208.5,129.2 1214.5,129.0 1220.5,129.3 1225.5,129.9 1231.5,130.6 1237.5,130.9 1243.5,130.9 1248.5,131.0 1254.5,131.2 1260.5,131.4 1266.5,131.4 1272.5,131.6 1277.5,132.2 1283.5,132.7 1289.5,132.6 1295.5,132.4 1300.5,132.0 1306.5,131.7 1312.5,131.1 1318.5,130.8 1323.5,129.9 1329.5,127.9 1335.5,126.0 1341.5,123.8 1346.5,121.4 1352.5,119.2 1358.5,115.9 1364.5,114.3 1369.5,112.5 1375.5,110.6 1381.5,109.2 1387.5,107.2 1392.5,105.7 1398.5,104.1 1404.5,102.7 1410.5,101.0 1415.5,99.0 1421.5,96.8 1427.5,94.6" fill="none" stroke="#ff1a1a" stroke-width="1.1" stroke-linejoin="round" shape-rendering="auto"/>
<rect x="1" y="105" width="1459" height="2" fill="#157a00"/>
<rect x="1" y="151" width="1459" height="2" fill="#157a00"/>
<rect x="1" y="49" width="1459" height="2" fill="#ff0000"/>
<rect x="1" y="52" width="1459" height="1" fill="#2c4a7c"/>
<rect x="0" y="407" width="1427" height="23" fill="#bbbbbb"/><rect x="0" y="406" width="1427" height="1" fill="#d9d9d9"/><rect x="0" y="406" width="1" height="24" fill="#222"/><rect x="1427" y="406" width="1" height="24" fill="#111"/><rect x="0" y="429" width="1428" height="1" fill="#5a5a5a"/><line x1="0" y1="429.5" x2="1428" y2="429.5" stroke="#1c1c1c" stroke-width="1" stroke-dasharray="5,1"/>
<rect x="0" y="460" width="1427" height="24" fill="#bbbbbb"/><rect x="0" y="484" width="1427" height="1" fill="#d9d9d9"/><rect x="0" y="460" width="1" height="25" fill="#222"/><rect x="1427" y="460" width="1" height="25" fill="#111"/><rect x="0" y="460" width="1428" height="1" fill="#5a5a5a"/><line x1="0" y1="460.5" x2="1428" y2="460.5" stroke="#1c1c1c" stroke-width="1" stroke-dasharray="5,1"/>
<rect x="1" y="445" width="1459" height="1" fill="#e2e2e2"/>
<polyline points="0.0,432.2 5.5,433.3 11.5,436.0 17.5,433.6 22.5,430.5 28.5,428.4 34.5,428.9 40.5,433.6 45.5,438.6 51.5,438.0 57.5,436.6 63.5,436.1 69.5,432.8 74.5,439.8 80.5,442.8 86.5,445.0 92.5,444.8 97.5,442.8 103.5,439.9 109.5,435.8 115.5,429.2 120.5,428.3 126.5,430.4 132.5,430.2 138.5,432.1 143.5,432.9 149.5,433.4 155.5,434.5 161.5,435.7 166.5,440.0 172.5,441.5 178.5,438.3 184.5,436.0 189.5,439.5 195.5,439.4 201.5,439.0 207.5,438.6 212.5,439.4 218.5,453.7 224.5,447.8 230.5,446.9 235.5,447.2 241.5,449.6 247.5,454.8 253.5,457.6 258.5,454.8 264.5,456.4 270.5,451.2 276.5,451.1 281.5,446.6 287.5,444.1 293.5,438.6 299.5,436.5 305.5,434.6 310.5,435.5 316.5,433.5 322.5,431.3 328.5,429.0 333.5,428.7 339.5,432.9 345.5,436.2 351.5,440.2 356.5,431.4 362.5,430.4 368.5,431.9 374.5,432.2 379.5,435.4 385.5,436.9 391.5,436.5 397.5,433.4 402.5,434.2 408.5,435.7 414.5,436.6 420.5,439.0 425.5,435.4 431.5,436.3 437.5,441.1 443.5,442.4 448.5,445.1 454.5,442.3 460.5,442.1 466.5,458.4 471.5,448.7 477.5,448.0 483.5,451.9 489.5,450.0 494.5,445.9 500.5,443.7 506.5,443.7 512.5,442.6 517.5,436.8 523.5,433.8 529.5,433.1 535.5,441.3 541.5,443.5 546.5,441.5 552.5,442.2 558.5,441.9 564.5,442.1 569.5,442.2 575.5,436.9 581.5,436.3 587.5,437.8 592.5,442.1 598.5,442.3 604.5,438.9 610.5,437.8 615.5,440.0 621.5,441.8 627.5,440.1 633.5,439.9 638.5,438.3 644.5,439.1 650.5,432.9 656.5,434.6 661.5,439.7 667.5,443.8 673.5,448.1 679.5,447.4 684.5,450.5 690.5,450.5 696.5,449.5 702.5,456.5 707.5,453.1 713.5,444.5 719.5,445.5 725.5,443.9 730.5,446.0 736.5,444.2 742.5,444.6 748.5,445.7 753.5,448.5 759.5,444.4 765.5,443.4 771.5,442.4 777.5,442.4 782.5,441.3 788.5,441.7 794.5,436.5 800.5,443.6 805.5,444.7 811.5,441.1 817.5,451.5 823.5,444.4 828.5,446.6 834.5,443.9 840.5,443.8 846.5,446.0 851.5,447.1 857.5,446.0 863.5,433.8 869.5,440.4 874.5,436.4 880.5,435.7 886.5,435.3 892.5,435.0 897.5,432.8 903.5,434.4 909.5,436.4 915.5,437.9 920.5,435.9 926.5,435.5 932.5,433.6 938.5,431.8 943.5,430.0 949.5,435.8 955.5,434.7 961.5,433.7 966.5,432.5 972.5,431.1 978.5,438.5 984.5,437.0 989.5,436.9 995.5,436.8 1001.5,438.1 1007.5,439.5 1012.5,436.8 1018.5,438.6 1024.5,441.3 1030.5,440.4 1036.5,441.4 1041.5,454.2 1047.5,453.1 1053.5,455.4 1059.5,453.5 1064.5,452.2 1070.5,456.9 1076.5,451.0 1082.5,452.3 1087.5,453.8 1093.5,449.9 1099.5,449.7 1105.5,446.4 1110.5,447.9 1116.5,445.7 1122.5,447.4 1128.5,449.1 1133.5,449.4 1139.5,446.1 1145.5,433.6 1151.5,425.2 1156.5,426.9 1162.5,427.3 1168.5,430.7 1174.5,431.2 1179.5,430.8 1185.5,440.3 1191.5,444.8 1197.5,444.9 1202.5,443.2 1208.5,445.8 1214.5,447.2 1220.5,450.7 1225.5,451.3 1231.5,449.9 1237.5,449.2 1243.5,443.0 1248.5,442.1 1254.5,443.0 1260.5,442.1 1266.5,443.7 1272.5,446.3 1277.5,450.6 1283.5,449.0 1289.5,441.3 1295.5,440.4 1300.5,438.2 1306.5,437.3 1312.5,436.7 1318.5,440.3 1323.5,435.1 1329.5,432.4 1335.5,432.8 1341.5,431.6 1346.5,429.1 1352.5,432.0 1358.5,427.5 1364.5,443.6 1369.5,443.2 1375.5,443.8 1381.5,446.3 1387.5,441.1 1392.5,443.2 1398.5,443.9 1404.5,443.9 1410.5,442.1 1415.5,440.4 1421.5,437.9 1427.5,437.4" fill="none" stroke="#2f4dff" stroke-width="1.1" stroke-linejoin="round" shape-rendering="auto"/>
<rect x="1" y="508" width="1459" height="1" fill="#e2e2e2"/>
<rect x="1" y="531" width="1459" height="1" fill="#e2e2e2"/>
<polyline points="0.0,527.0 5.5,524.9 11.5,522.6 17.5,520.4 22.5,518.0 28.5,515.0 34.5,512.4 40.5,510.6 45.5,509.1 51.5,507.3 57.5,507.1 63.5,507.1 69.5,507.1 74.5,507.4 80.5,508.1 86.5,508.8 92.5,509.6 97.5,510.2 103.5,511.1 109.5,511.9 115.5,511.2 120.5,509.4 126.5,507.3 132.5,505.2 138.5,503.4 143.5,501.9 149.5,501.0 155.5,500.1 161.5,500.4 166.5,500.9 172.5,501.7 178.5,502.9 184.5,503.9 189.5,504.2 195.5,505.4 201.5,506.7 207.5,508.1 212.5,509.2 218.5,511.5 224.5,514.0 230.5,516.5 235.5,518.6 241.5,521.1 247.5,524.0 253.5,527.0 258.5,529.5 264.5,532.4 270.5,534.8 276.5,537.2 281.5,539.1 287.5,539.4 293.5,539.1 299.5,536.8 305.5,534.5 310.5,532.6 316.5,530.1 322.5,527.2 328.5,524.4 333.5,522.0 339.5,519.4 345.5,517.3 351.5,515.2 356.5,513.5 362.5,511.3 368.5,509.1 374.5,506.9 379.5,505.1 385.5,504.5 391.5,503.9 397.5,503.3 402.5,502.9 408.5,502.8 414.5,503.4 420.5,504.0 425.5,504.5 431.5,505.1 437.5,506.2 443.5,507.6 448.5,509.0 454.5,510.6 460.5,512.4 466.5,515.4 471.5,518.2 477.5,521.1 483.5,523.9 489.5,526.6 494.5,528.8 500.5,530.1 506.5,531.1 512.5,531.5 517.5,530.5 523.5,528.9 529.5,526.6 535.5,524.6 541.5,523.0 546.5,522.0 552.5,521.4 558.5,520.8 564.5,520.5 569.5,520.7 575.5,520.1 581.5,519.2 587.5,518.4 592.5,517.9 598.5,517.6 604.5,517.3 610.5,517.0 615.5,517.0 621.5,517.1 627.5,517.2 633.5,517.3 638.5,517.2 644.5,517.0 650.5,516.5 656.5,515.9 661.5,515.4 667.5,516.0 673.5,516.8 679.5,517.9 684.5,519.5 690.5,521.6 696.5,523.7 702.5,526.2 707.5,528.6 713.5,530.9 719.5,531.9 725.5,532.6 730.5,533.1 736.5,533.5 742.5,533.7 748.5,534.0 753.5,534.2 759.5,534.3 765.5,533.8 771.5,533.3 777.5,532.7 782.5,532.1 788.5,531.4 794.5,530.5 800.5,529.7 805.5,529.1 811.5,528.4 817.5,528.8 823.5,529.2 828.5,529.6 834.5,530.0 840.5,530.2 846.5,530.1 851.5,530.2 857.5,530.2 863.5,529.5 869.5,528.0 874.5,526.0 880.5,523.7 886.5,521.3 892.5,518.8 897.5,516.3 903.5,513.8 909.5,511.4 915.5,509.9 920.5,508.7 926.5,507.5 932.5,506.3 938.5,505.2 943.5,504.1 949.5,503.1 955.5,502.4 961.5,501.7 966.5,501.1 972.5,500.4 978.5,500.3 984.5,500.9 989.5,501.4 995.5,502.1 1001.5,502.9 1007.5,504.0 1012.5,505.0 1018.5,506.1 1024.5,507.3 1030.5,508.5 1036.5,510.0 1041.5,512.6 1047.5,515.6 1053.5,518.8 1059.5,522.3 1064.5,525.4 1070.5,528.9 1076.5,531.9 1082.5,534.4 1087.5,536.6 1093.5,538.8 1099.5,539.8 1105.5,540.6 1110.5,541.1 1116.5,541.3 1122.5,541.2 1128.5,541.1 1133.5,541.0 1139.5,540.9 1145.5,539.3 1151.5,535.3 1156.5,531.1 1162.5,525.6 1168.5,520.5 1174.5,516.2 1179.5,512.7 1185.5,510.5 1191.5,509.1 1197.5,509.3 1202.5,509.8 1208.5,511.1 1214.5,513.0 1220.5,515.2 1225.5,517.4 1231.5,519.9 1237.5,522.3 1243.5,524.3 1248.5,525.4 1254.5,526.2 1260.5,526.9 1266.5,527.4 1272.5,528.0 1277.5,528.8 1283.5,529.7 1289.5,530.2 1295.5,529.8 1300.5,529.0 1306.5,528.0 1312.5,526.8 1318.5,525.5 1323.5,523.8 1329.5,521.8 1335.5,519.7 1341.5,517.5 1346.5,515.4 1352.5,513.2 1358.5,510.7 1364.5,509.2 1369.5,508.5 1375.5,508.8 1381.5,509.8 1387.5,510.7 1392.5,511.8 1398.5,513.0 1404.5,514.3 1410.5,515.2 1415.5,515.8 1421.5,516.2 1427.5,516.4" fill="none" stroke="#ff6a14" stroke-width="1.1" stroke-linejoin="round" shape-rendering="auto"/>
<polyline points="0.0,514.6 5.5,512.2 11.5,511.0 17.5,507.7 22.5,504.5 28.5,502.3 34.5,500.5 40.5,500.1 45.5,501.4 51.5,502.9 57.5,503.2 63.5,503.3 69.5,504.0 74.5,505.9 80.5,508.2 86.5,511.5 92.5,514.6 97.5,516.4 103.5,516.9 109.5,515.0 115.5,509.8 120.5,504.8 126.5,500.2 132.5,497.6 138.5,495.7 143.5,496.0 149.5,496.4 155.5,498.1 161.5,499.9 166.5,502.1 172.5,505.2 178.5,506.5 184.5,507.4 189.5,508.3 195.5,509.7 201.5,511.1 207.5,512.5 212.5,513.9 218.5,519.9 224.5,522.6 230.5,525.3 235.5,527.5 241.5,530.2 247.5,534.5 253.5,539.0 258.5,542.3 264.5,545.2 270.5,545.9 276.5,546.1 281.5,544.7 287.5,543.1 293.5,538.0 299.5,532.6 305.5,527.8 310.5,524.1 316.5,519.7 322.5,515.5 328.5,511.3 333.5,507.8 339.5,507.4 345.5,507.6 351.5,508.8 356.5,505.3 362.5,501.2 368.5,499.6 374.5,498.2 379.5,498.9 385.5,500.2 391.5,501.5 397.5,501.6 402.5,501.6 408.5,503.1 414.5,504.9 420.5,506.5 425.5,506.9 431.5,507.5 437.5,509.9 443.5,512.6 448.5,515.3 454.5,517.0 460.5,518.8 466.5,527.8 471.5,530.0 477.5,532.3 483.5,535.8 489.5,538.1 494.5,537.4 500.5,536.0 506.5,534.7 512.5,532.6 517.5,528.4 523.5,522.2 529.5,516.4 535.5,516.9 541.5,518.2 546.5,518.3 552.5,518.7 558.5,519.1 564.5,519.5 569.5,520.0 575.5,517.5 581.5,515.5 587.5,514.5 592.5,515.8 598.5,517.0 604.5,516.4 610.5,515.8 615.5,516.3 621.5,517.2 627.5,517.5 633.5,517.8 638.5,517.6 644.5,517.7 650.5,515.2 656.5,513.3 661.5,513.9 667.5,516.2 673.5,519.5 679.5,522.8 684.5,526.3 690.5,529.5 696.5,531.6 702.5,536.1 707.5,539.0 713.5,538.1 719.5,537.2 725.5,536.0 730.5,535.6 736.5,534.5 742.5,534.1 748.5,534.4 753.5,535.2 759.5,534.0 765.5,533.0 771.5,531.7 777.5,530.7 782.5,529.4 788.5,528.1 794.5,525.9 800.5,526.1 805.5,526.4 811.5,526.3 817.5,530.2 823.5,530.4 828.5,531.2 834.5,530.8 840.5,530.5 846.5,530.7 851.5,531.3 857.5,531.6 863.5,525.9 869.5,523.2 874.5,519.0 880.5,514.7 886.5,511.1 892.5,508.4 897.5,505.4 903.5,503.6 909.5,503.5 915.5,503.9 920.5,503.5 926.5,503.2 932.5,501.9 938.5,500.3 943.5,498.5 949.5,499.0 955.5,499.2 961.5,499.3 966.5,498.7 972.5,497.9 978.5,500.0 984.5,501.5 989.5,502.8 995.5,504.3 1001.5,506.1 1007.5,508.0 1012.5,508.4 1018.5,510.1 1024.5,512.2 1030.5,513.7 1036.5,515.7 1041.5,521.5 1047.5,527.0 1053.5,532.3 1059.5,536.0 1064.5,538.7 1070.5,542.0 1076.5,543.6 1082.5,545.1 1087.5,546.5 1093.5,546.4 1099.5,546.0 1105.5,544.4 1110.5,543.4 1116.5,542.0 1122.5,541.2 1128.5,540.8 1133.5,540.5 1139.5,539.7 1145.5,531.9 1151.5,520.7 1156.5,512.5 1162.5,505.4 1168.5,501.7 1174.5,499.1 1179.5,497.1 1185.5,500.0 1191.5,504.7 1197.5,508.9 1202.5,511.7 1208.5,515.3 1214.5,519.1 1220.5,523.8 1225.5,527.7 1231.5,530.7 1237.5,532.4 1243.5,531.8 1248.5,530.7 1254.5,529.8 1260.5,528.8 1266.5,528.5 1272.5,529.4 1277.5,532.1 1283.5,532.8 1289.5,531.3 1295.5,529.0 1300.5,526.6 1306.5,524.2 1312.5,522.1 1318.5,521.7 1323.5,518.4 1329.5,514.4 1335.5,511.6 1341.5,508.7 1346.5,505.6 1352.5,503.7 1358.5,499.2 1364.5,503.5 1369.5,506.9 1375.5,510.1 1381.5,514.0 1387.5,514.2 1392.5,515.7 1398.5,517.5 1404.5,519.2 1410.5,519.6 1415.5,519.2 1421.5,517.5 1427.5,515.8" fill="none" stroke="#2f4dff" stroke-width="1.1" stroke-linejoin="round" shape-rendering="auto"/>
<g shape-rendering="auto"><rect x="-2.46" y="516" width="4.8" height="15" fill="#0c4ea9"/><rect x="3.30" y="517" width="4.8" height="14" fill="#0c4ea9"/><rect x="9.05" y="519" width="4.8" height="12" fill="#0c4ea9"/><rect x="14.81" y="520" width="4.8" height="11" fill="#0c4ea9"/><rect x="20.56" y="520" width="4.8" height="11" fill="#0c4ea9"/><rect x="26.32" y="520" width="4.8" height="11" fill="#0c4ea9"/><rect x="32.08" y="520" width="4.8" height="11" fill="#0c4ea9"/><rect x="37.83" y="521" width="4.8" height="10" fill="#0c4ea9"/><rect x="43.59" y="525" width="4.8" height="6" fill="#0c4ea9"/><rect x="49.34" y="528" width="4.8" height="3" fill="#0c4ea9"/><rect x="55.10" y="529" width="4.8" height="2" fill="#0c4ea9"/><rect x="60.86" y="530" width="4.8" height="1" fill="#0c4ea9"/><rect x="66.61" y="529" width="4.8" height="2" fill="#0c4ea9"/><rect x="72.37" y="531" width="4.8" height="1" fill="#8fb0e0"/><rect x="78.12" y="531" width="4.8" height="3" fill="#ff9410"/><rect x="83.88" y="531" width="4.8" height="5" fill="#ff9410"/><rect x="89.64" y="531" width="4.8" height="7" fill="#ff9410"/><rect x="95.39" y="531" width="4.8" height="7" fill="#ff9410"/><rect x="101.15" y="531" width="4.8" height="5" fill="#ff9410"/><rect x="106.90" y="531" width="4.8" height="3" fill="#ff9410"/><rect x="112.66" y="529" width="4.8" height="2" fill="#0c4ea9"/><rect x="118.42" y="524" width="4.8" height="7" fill="#0c4ea9"/><rect x="124.17" y="523" width="4.8" height="8" fill="#0c4ea9"/><rect x="129.93" y="522" width="4.8" height="9" fill="#0c4ea9"/><rect x="135.68" y="523" width="4.8" height="8" fill="#0c4ea9"/><rect x="141.44" y="525" width="4.8" height="6" fill="#0c4ea9"/><rect x="147.20" y="527" width="4.8" height="4" fill="#0c4ea9"/><rect x="152.95" y="529" width="4.8" height="2" fill="#0c4ea9"/><rect x="158.71" y="530" width="4.8" height="1" fill="#0c4ea9"/><rect x="164.46" y="531" width="4.8" height="1" fill="#ff9410"/><rect x="170.22" y="531" width="4.8" height="5" fill="#ff9410"/><rect x="175.98" y="531" width="4.8" height="5" fill="#ff9410"/><rect x="181.73" y="531" width="4.8" height="4" fill="#ff9410"/><rect x="187.49" y="531" width="4.8" height="5" fill="#ff9410"/><rect x="193.24" y="531" width="4.8" height="5" fill="#ff9410"/><rect x="199.00" y="531" width="4.8" height="5" fill="#ff9410"/><rect x="204.76" y="531" width="4.8" height="5" fill="#ff9410"/><rect x="210.51" y="531" width="4.8" height="5" fill="#ff9410"/><rect x="216.27" y="531" width="4.8" height="9" fill="#ff9410"/><rect x="222.02" y="531" width="4.8" height="9" fill="#ff9410"/><rect x="227.78" y="531" width="4.8" height="9" fill="#ff9410"/><rect x="233.54" y="531" width="4.8" height="9" fill="#ff9410"/><rect x="239.29" y="531" width="4.8" height="9" fill="#ff9410"/><rect x="245.05" y="531" width="4.8" height="11" fill="#ff9410"/><rect x="250.80" y="531" width="4.8" height="13" fill="#ff9410"/><rect x="256.56" y="531" width="4.8" height="13" fill="#ff9410"/><rect x="262.32" y="531" width="4.8" height="13" fill="#ff9410"/><rect x="268.07" y="531" width="4.8" height="11" fill="#ff9410"/><rect x="273.83" y="531" width="4.8" height="9" fill="#ff9410"/><rect x="279.58" y="531" width="4.8" height="6" fill="#ff9410"/><rect x="285.34" y="531" width="4.8" height="3" fill="#ff9410"/><rect x="291.10" y="530" width="4.8" height="1" fill="#0c4ea9"/><rect x="296.85" y="526" width="4.8" height="5" fill="#0c4ea9"/><rect x="302.61" y="523" width="4.8" height="8" fill="#0c4ea9"/><rect x="308.36" y="522" width="4.8" height="9" fill="#0c4ea9"/><rect x="314.12" y="521" width="4.8" height="10" fill="#0c4ea9"/><rect x="319.88" y="520" width="4.8" height="11" fill="#0c4ea9"/><rect x="325.63" y="519" width="4.8" height="12" fill="#0c4ea9"/><rect x="331.39" y="518" width="4.8" height="13" fill="#0c4ea9"/><rect x="337.14" y="520" width="4.8" height="11" fill="#0c4ea9"/><rect x="342.90" y="522" width="4.8" height="9" fill="#0c4ea9"/><rect x="348.66" y="526" width="4.8" height="5" fill="#0c4ea9"/><rect x="354.41" y="524" width="4.8" height="7" fill="#0c4ea9"/><rect x="360.17" y="522" width="4.8" height="9" fill="#0c4ea9"/><rect x="365.92" y="523" width="4.8" height="8" fill="#0c4ea9"/><rect x="371.68" y="524" width="4.8" height="7" fill="#0c4ea9"/><rect x="377.44" y="526" width="4.8" height="5" fill="#0c4ea9"/><rect x="383.19" y="528" width="4.8" height="3" fill="#0c4ea9"/><rect x="388.95" y="530" width="4.8" height="1" fill="#0c4ea9"/><rect x="394.70" y="530" width="4.8" height="1" fill="#0c4ea9"/><rect x="400.46" y="530" width="4.8" height="1" fill="#0c4ea9"/><rect x="406.22" y="531" width="4.8" height="1" fill="#ffc88a"/><rect x="411.97" y="531" width="4.8" height="1" fill="#ff9410"/><rect x="417.73" y="531" width="4.8" height="3" fill="#ff9410"/><rect x="423.48" y="531" width="4.8" height="3" fill="#ff9410"/><rect x="429.24" y="531" width="4.8" height="3" fill="#ff9410"/><rect x="435.00" y="531" width="4.8" height="4" fill="#ff9410"/><rect x="440.75" y="531" width="4.8" height="5" fill="#ff9410"/><rect x="446.51" y="531" width="4.8" height="7" fill="#ff9410"/><rect x="452.26" y="531" width="4.8" height="7" fill="#ff9410"/><rect x="458.02" y="531" width="4.8" height="6" fill="#ff9410"/><rect x="463.78" y="531" width="4.8" height="13" fill="#ff9410"/><rect x="469.53" y="531" width="4.8" height="12" fill="#ff9410"/><rect x="475.29" y="531" width="4.8" height="12" fill="#ff9410"/><rect x="481.04" y="531" width="4.8" height="13" fill="#ff9410"/><rect x="486.80" y="531" width="4.8" height="12" fill="#ff9410"/><rect x="492.56" y="531" width="4.8" height="9" fill="#ff9410"/><rect x="498.31" y="531" width="4.8" height="6" fill="#ff9410"/><rect x="504.07" y="531" width="4.8" height="3" fill="#ff9410"/><rect x="509.82" y="531" width="4.8" height="1" fill="#ff9410"/><rect x="515.58" y="529" width="4.8" height="2" fill="#0c4ea9"/><rect x="521.34" y="524" width="4.8" height="7" fill="#0c4ea9"/><rect x="527.09" y="521" width="4.8" height="10" fill="#0c4ea9"/><rect x="532.85" y="524" width="4.8" height="7" fill="#0c4ea9"/><rect x="538.60" y="526" width="4.8" height="5" fill="#0c4ea9"/><rect x="544.36" y="528" width="4.8" height="3" fill="#0c4ea9"/><rect x="550.12" y="529" width="4.8" height="2" fill="#0c4ea9"/><rect x="555.87" y="529" width="4.8" height="2" fill="#0c4ea9"/><rect x="561.63" y="530" width="4.8" height="1" fill="#0c4ea9"/><rect x="567.38" y="531" width="4.8" height="1" fill="#8fb0e0"/><rect x="573.14" y="529" width="4.8" height="2" fill="#0c4ea9"/><rect x="578.90" y="528" width="4.8" height="3" fill="#0c4ea9"/><rect x="584.65" y="528" width="4.8" height="3" fill="#0c4ea9"/><rect x="590.41" y="530" width="4.8" height="1" fill="#0c4ea9"/><rect x="596.16" y="531" width="4.8" height="1" fill="#8fb0e0"/><rect x="601.92" y="531" width="4.8" height="1" fill="#8fb0e0"/><rect x="607.68" y="530" width="4.8" height="1" fill="#0c4ea9"/><rect x="613.43" y="531" width="4.8" height="1" fill="#8fb0e0"/><rect x="619.19" y="531" width="4.8" height="1" fill="#ffc88a"/><rect x="624.94" y="531" width="4.8" height="1" fill="#ffc88a"/><rect x="630.70" y="531" width="4.8" height="1" fill="#ffc88a"/><rect x="636.46" y="531" width="4.8" height="1" fill="#ffc88a"/><rect x="642.21" y="531" width="4.8" height="1" fill="#ffc88a"/><rect x="647.97" y="530" width="4.8" height="1" fill="#0c4ea9"/><rect x="653.72" y="529" width="4.8" height="2" fill="#0c4ea9"/><rect x="659.48" y="530" width="4.8" height="1" fill="#0c4ea9"/><rect x="665.24" y="531" width="4.8" height="1" fill="#ffc88a"/><rect x="670.99" y="531" width="4.8" height="4" fill="#ff9410"/><rect x="676.75" y="531" width="4.8" height="5" fill="#ff9410"/><rect x="682.50" y="531" width="4.8" height="7" fill="#ff9410"/><rect x="688.26" y="531" width="4.8" height="9" fill="#ff9410"/><rect x="694.02" y="531" width="4.8" height="8" fill="#ff9410"/><rect x="699.77" y="531" width="4.8" height="11" fill="#ff9410"/><rect x="705.53" y="531" width="4.8" height="11" fill="#ff9410"/><rect x="711.28" y="531" width="4.8" height="7" fill="#ff9410"/><rect x="717.04" y="531" width="4.8" height="5" fill="#ff9410"/><rect x="722.80" y="531" width="4.8" height="3" fill="#ff9410"/><rect x="728.55" y="531" width="4.8" height="2" fill="#ff9410"/><rect x="734.31" y="531" width="4.8" height="1" fill="#ff9410"/><rect x="740.06" y="531" width="4.8" height="1" fill="#ffc88a"/><rect x="745.82" y="531" width="4.8" height="1" fill="#ffc88a"/><rect x="751.58" y="531" width="4.8" height="2" fill="#ff9410"/><rect x="757.33" y="531" width="4.8" height="1" fill="#ffc88a"/><rect x="763.09" y="531" width="4.8" height="1" fill="#8fb0e0"/><rect x="768.84" y="530" width="4.8" height="1" fill="#0c4ea9"/><rect x="774.60" y="530" width="4.8" height="1" fill="#0c4ea9"/><rect x="780.36" y="529" width="4.8" height="2" fill="#0c4ea9"/><rect x="786.11" y="529" width="4.8" height="2" fill="#0c4ea9"/><rect x="791.87" y="527" width="4.8" height="4" fill="#0c4ea9"/><rect x="797.62" y="529" width="4.8" height="2" fill="#0c4ea9"/><rect x="803.38" y="530" width="4.8" height="1" fill="#0c4ea9"/><rect x="809.14" y="529" width="4.8" height="2" fill="#0c4ea9"/><rect x="814.89" y="531" width="4.8" height="1" fill="#ff9410"/><rect x="820.65" y="531" width="4.8" height="1" fill="#ff9410"/><rect x="826.40" y="531" width="4.8" height="2" fill="#ff9410"/><rect x="832.16" y="531" width="4.8" height="1" fill="#ffc88a"/><rect x="837.92" y="531" width="4.8" height="1" fill="#ffc88a"/><rect x="843.67" y="531" width="4.8" height="1" fill="#ffc88a"/><rect x="849.43" y="531" width="4.8" height="2" fill="#ff9410"/><rect x="855.18" y="531" width="4.8" height="2" fill="#ff9410"/><rect x="860.94" y="528" width="4.8" height="3" fill="#0c4ea9"/><rect x="866.70" y="527" width="4.8" height="4" fill="#0c4ea9"/><rect x="872.45" y="524" width="4.8" height="7" fill="#0c4ea9"/><rect x="878.21" y="522" width="4.8" height="9" fill="#0c4ea9"/><rect x="883.96" y="521" width="4.8" height="10" fill="#0c4ea9"/><rect x="889.72" y="521" width="4.8" height="10" fill="#0c4ea9"/><rect x="895.48" y="520" width="4.8" height="11" fill="#0c4ea9"/><rect x="901.23" y="521" width="4.8" height="10" fill="#0c4ea9"/><rect x="906.99" y="523" width="4.8" height="8" fill="#0c4ea9"/><rect x="912.74" y="525" width="4.8" height="6" fill="#0c4ea9"/><rect x="918.50" y="526" width="4.8" height="5" fill="#0c4ea9"/><rect x="924.26" y="527" width="4.8" height="4" fill="#0c4ea9"/><rect x="930.01" y="527" width="4.8" height="4" fill="#0c4ea9"/><rect x="935.77" y="527" width="4.8" height="4" fill="#0c4ea9"/><rect x="941.52" y="526" width="4.8" height="5" fill="#0c4ea9"/><rect x="947.28" y="528" width="4.8" height="3" fill="#0c4ea9"/><rect x="953.04" y="528" width="4.8" height="3" fill="#0c4ea9"/><rect x="958.79" y="529" width="4.8" height="2" fill="#0c4ea9"/><rect x="964.55" y="529" width="4.8" height="2" fill="#0c4ea9"/><rect x="970.30" y="529" width="4.8" height="2" fill="#0c4ea9"/><rect x="976.06" y="531" width="4.8" height="1" fill="#8fb0e0"/><rect x="981.82" y="531" width="4.8" height="1" fill="#ffc88a"/><rect x="987.57" y="531" width="4.8" height="2" fill="#ff9410"/><rect x="993.33" y="531" width="4.8" height="3" fill="#ff9410"/><rect x="999.08" y="531" width="4.8" height="3" fill="#ff9410"/><rect x="1004.84" y="531" width="4.8" height="5" fill="#ff9410"/><rect x="1010.60" y="531" width="4.8" height="3" fill="#ff9410"/><rect x="1016.35" y="531" width="4.8" height="5" fill="#ff9410"/><rect x="1022.11" y="531" width="4.8" height="5" fill="#ff9410"/><rect x="1027.86" y="531" width="4.8" height="5" fill="#ff9410"/><rect x="1033.62" y="531" width="4.8" height="5" fill="#ff9410"/><rect x="1039.38" y="531" width="4.8" height="10" fill="#ff9410"/><rect x="1045.13" y="531" width="4.8" height="12" fill="#ff9410"/><rect x="1050.89" y="531" width="4.8" height="14" fill="#ff9410"/><rect x="1056.64" y="531" width="4.8" height="14" fill="#ff9410"/><rect x="1062.40" y="531" width="4.8" height="13" fill="#ff9410"/><rect x="1068.16" y="531" width="4.8" height="14" fill="#ff9410"/><rect x="1073.91" y="531" width="4.8" height="12" fill="#ff9410"/><rect x="1079.67" y="531" width="4.8" height="10" fill="#ff9410"/><rect x="1085.42" y="531" width="4.8" height="10" fill="#ff9410"/><rect x="1091.18" y="531" width="4.8" height="8" fill="#ff9410"/><rect x="1096.94" y="531" width="4.8" height="6" fill="#ff9410"/><rect x="1102.69" y="531" width="4.8" height="3" fill="#ff9410"/><rect x="1108.45" y="531" width="4.8" height="2" fill="#ff9410"/><rect x="1114.20" y="531" width="4.8" height="1" fill="#ffc88a"/><rect x="1119.96" y="531" width="4.8" height="1" fill="#ffc88a"/><rect x="1125.72" y="531" width="4.8" height="1" fill="#ffc88a"/><rect x="1131.47" y="531" width="4.8" height="1" fill="#ffc88a"/><rect x="1137.23" y="530" width="4.8" height="1" fill="#0c4ea9"/><rect x="1142.98" y="526" width="4.8" height="5" fill="#0c4ea9"/><rect x="1148.74" y="517" width="4.8" height="14" fill="#0c4ea9"/><rect x="1154.50" y="512" width="4.8" height="19" fill="#0c4ea9"/><rect x="1160.25" y="511" width="4.8" height="20" fill="#0c4ea9"/><rect x="1166.01" y="512" width="4.8" height="19" fill="#0c4ea9"/><rect x="1171.76" y="514" width="4.8" height="17" fill="#0c4ea9"/><rect x="1177.52" y="516" width="4.8" height="15" fill="#0c4ea9"/><rect x="1183.28" y="521" width="4.8" height="10" fill="#0c4ea9"/><rect x="1189.03" y="527" width="4.8" height="4" fill="#0c4ea9"/><rect x="1194.79" y="531" width="4.8" height="1" fill="#8fb0e0"/><rect x="1200.54" y="531" width="4.8" height="2" fill="#ff9410"/><rect x="1206.30" y="531" width="4.8" height="5" fill="#ff9410"/><rect x="1212.06" y="531" width="4.8" height="6" fill="#ff9410"/><rect x="1217.81" y="531" width="4.8" height="9" fill="#ff9410"/><rect x="1223.57" y="531" width="4.8" height="11" fill="#ff9410"/><rect x="1229.32" y="531" width="4.8" height="11" fill="#ff9410"/><rect x="1235.08" y="531" width="4.8" height="10" fill="#ff9410"/><rect x="1240.84" y="531" width="4.8" height="7" fill="#ff9410"/><rect x="1246.59" y="531" width="4.8" height="5" fill="#ff9410"/><rect x="1252.35" y="531" width="4.8" height="3" fill="#ff9410"/><rect x="1258.10" y="531" width="4.8" height="2" fill="#ff9410"/><rect x="1263.86" y="531" width="4.8" height="1" fill="#ff9410"/><rect x="1269.62" y="531" width="4.8" height="2" fill="#ff9410"/><rect x="1275.37" y="531" width="4.8" height="3" fill="#ff9410"/><rect x="1281.13" y="531" width="4.8" height="4" fill="#ff9410"/><rect x="1286.88" y="531" width="4.8" height="2" fill="#ff9410"/><rect x="1292.64" y="531" width="4.8" height="1" fill="#8fb0e0"/><rect x="1298.40" y="529" width="4.8" height="2" fill="#0c4ea9"/><rect x="1304.15" y="528" width="4.8" height="3" fill="#0c4ea9"/><rect x="1309.91" y="527" width="4.8" height="4" fill="#0c4ea9"/><rect x="1315.66" y="528" width="4.8" height="3" fill="#0c4ea9"/><rect x="1321.42" y="526" width="4.8" height="5" fill="#0c4ea9"/><rect x="1327.18" y="524" width="4.8" height="7" fill="#0c4ea9"/><rect x="1332.93" y="523" width="4.8" height="8" fill="#0c4ea9"/><rect x="1338.69" y="523" width="4.8" height="8" fill="#0c4ea9"/><rect x="1344.44" y="521" width="4.8" height="10" fill="#0c4ea9"/><rect x="1350.20" y="522" width="4.8" height="9" fill="#0c4ea9"/><rect x="1355.96" y="520" width="4.8" height="11" fill="#0c4ea9"/><rect x="1361.71" y="526" width="4.8" height="5" fill="#0c4ea9"/><rect x="1367.47" y="530" width="4.8" height="1" fill="#0c4ea9"/><rect x="1373.22" y="531" width="4.8" height="1" fill="#ff9410"/><rect x="1378.98" y="531" width="4.8" height="5" fill="#ff9410"/><rect x="1384.74" y="531" width="4.8" height="3" fill="#ff9410"/><rect x="1390.49" y="531" width="4.8" height="4" fill="#ff9410"/><rect x="1396.25" y="531" width="4.8" height="5" fill="#ff9410"/><rect x="1402.00" y="531" width="4.8" height="5" fill="#ff9410"/><rect x="1407.76" y="531" width="4.8" height="5" fill="#ff9410"/><rect x="1413.52" y="531" width="4.8" height="3" fill="#ff9410"/><rect x="1419.27" y="531" width="4.8" height="1" fill="#ff9410"/><rect x="1425.03" y="531" width="4.8" height="1" fill="#8fb0e0"/></g>
<rect x="0" y="560" width="1427" height="11" fill="#bbbbbb"/><rect x="0" y="559" width="1427" height="1" fill="#d9d9d9"/><rect x="0" y="559" width="1" height="12" fill="#222"/><rect x="1427" y="559" width="1" height="12" fill="#111"/><rect x="0" y="570" width="1428" height="1" fill="#5a5a5a"/><line x1="0" y1="570.5" x2="1428" y2="570.5" stroke="#1c1c1c" stroke-width="1" stroke-dasharray="5,1"/>
<rect x="0" y="604" width="1427" height="12" fill="#bbbbbb"/><rect x="0" y="616" width="1427" height="1" fill="#d9d9d9"/><rect x="0" y="604" width="1" height="13" fill="#222"/><rect x="1427" y="604" width="1" height="13" fill="#111"/><rect x="0" y="604" width="1428" height="1" fill="#5a5a5a"/><line x1="0" y1="604.5" x2="1428" y2="604.5" stroke="#1c1c1c" stroke-width="1" stroke-dasharray="5,1"/>
<rect x="1" y="587" width="1459" height="1" fill="#444"/>
<polyline points="0.0,563.8 5.5,563.6 11.5,563.4 17.5,563.1 22.5,562.7 28.5,562.3 34.5,563.2 40.5,566.0 45.5,571.5 51.5,578.1 57.5,583.9 63.5,578.9 69.5,575.8 74.5,576.3 80.5,586.9 86.5,598.8 92.5,610.6 97.5,607.8 103.5,600.0 109.5,588.2 115.5,576.1 120.5,568.3 126.5,565.4 132.5,567.3 138.5,568.7 143.5,570.1 149.5,571.8 155.5,573.3 161.5,574.6 166.5,577.4 172.5,580.3 178.5,582.1 184.5,580.4 189.5,582.2 195.5,588.3 201.5,595.3 207.5,597.3 212.5,598.0 218.5,601.2 224.5,600.8 230.5,599.0 235.5,594.0 241.5,595.2 247.5,602.3 253.5,608.6 258.5,610.5 264.5,607.7 270.5,603.5 276.5,602.0 281.5,597.2 287.5,592.6 293.5,584.4 299.5,574.7 305.5,566.0 310.5,563.9 316.5,564.4 322.5,563.7 328.5,562.1 333.5,561.8 339.5,564.1 345.5,567.7 351.5,572.3 356.5,571.5 362.5,570.0 368.5,567.0 374.5,569.5 379.5,573.0 385.5,577.6 391.5,581.6 397.5,579.0 402.5,576.7 408.5,575.2 414.5,577.6 420.5,580.1 425.5,578.9 431.5,578.3 437.5,587.0 443.5,597.9 448.5,609.5 454.5,607.9 460.5,606.0 466.5,605.0 471.5,600.4 477.5,595.7 483.5,590.1 489.5,591.9 494.5,590.5 500.5,585.0 506.5,580.4 512.5,576.5 517.5,570.6 523.5,564.7 529.5,560.6 535.5,565.7 541.5,572.6 546.5,577.9 552.5,579.8 558.5,581.0 564.5,583.1 569.5,582.7 575.5,580.3 581.5,577.5 587.5,575.4 592.5,581.2 598.5,586.8 604.5,587.8 610.5,582.6 615.5,578.1 621.5,580.2 627.5,581.5 633.5,581.9 638.5,577.8 644.5,576.6 650.5,572.0 656.5,570.2 661.5,572.2 667.5,583.0 673.5,596.6 679.5,600.1 684.5,602.3 690.5,600.8 696.5,602.6 702.5,605.6 707.5,607.3 713.5,603.9 719.5,595.7 725.5,589.0 730.5,589.9 736.5,588.9 742.5,587.2 748.5,582.2 753.5,580.7 759.5,576.2 765.5,572.3 771.5,565.2 777.5,563.1 782.5,564.0 788.5,566.5 794.5,567.2 800.5,571.2 805.5,576.3 811.5,583.5 817.5,594.0 823.5,592.9 828.5,596.5 834.5,586.2 840.5,585.7 846.5,585.4 851.5,588.2 857.5,590.7 863.5,580.8 869.5,575.2 874.5,566.0 880.5,565.4 886.5,560.7 892.5,562.1 897.5,564.2 903.5,567.1 909.5,570.5 915.5,574.0 920.5,573.8 926.5,572.4 932.5,568.5 938.5,565.0 943.5,562.4 949.5,565.0 955.5,568.3 961.5,571.4 966.5,570.6 972.5,569.7 978.5,573.4 984.5,577.1 989.5,581.3 995.5,579.8 1001.5,582.0 1007.5,585.1 1012.5,585.9 1018.5,587.3 1024.5,590.4 1030.5,595.1 1036.5,597.2 1041.5,600.5 1047.5,604.3 1053.5,609.7 1059.5,609.0 1064.5,608.3 1070.5,607.2 1076.5,605.1 1082.5,604.2 1087.5,603.1 1093.5,602.4 1099.5,600.4 1105.5,595.1 1110.5,593.3 1116.5,590.3 1122.5,587.2 1128.5,584.9 1133.5,584.6 1139.5,584.4 1145.5,579.6 1151.5,570.7 1156.5,564.6 1162.5,561.6 1168.5,564.0 1174.5,565.8 1179.5,567.1 1185.5,571.1 1191.5,578.9 1197.5,587.7 1202.5,589.3 1208.5,590.3 1214.5,591.6 1220.5,597.9 1225.5,603.7 1231.5,608.8 1237.5,609.9 1243.5,604.2 1248.5,598.5 1254.5,592.8 1260.5,590.9 1266.5,588.0 1272.5,587.0 1277.5,591.0 1283.5,598.3 1289.5,591.7 1295.5,580.6 1300.5,569.9 1306.5,566.3 1312.5,562.8 1318.5,566.6 1323.5,566.0 1329.5,568.7 1335.5,568.6 1341.5,569.8 1346.5,567.3 1352.5,565.2 1358.5,562.9 1364.5,571.8 1369.5,580.3 1375.5,593.4 1381.5,598.9 1387.5,596.8 1392.5,596.2 1398.5,594.8 1404.5,598.8 1410.5,597.7 1415.5,594.9 1421.5,589.2 1427.5,583.6" fill="none" stroke="#ff8c1a" stroke-width="1.1" stroke-linejoin="round" shape-rendering="auto"/>
<polyline points="0.0,563.8 5.5,563.7 11.5,563.6 17.5,563.3 22.5,562.8 28.5,562.3 34.5,562.8 40.5,564.0 45.5,567.5 51.5,573.5 57.5,578.8 63.5,581.6 69.5,579.5 74.5,578.1 80.5,579.5 86.5,589.0 92.5,598.6 97.5,606.2 103.5,606.5 109.5,597.3 115.5,587.5 120.5,577.8 126.5,569.8 132.5,567.3 138.5,567.4 143.5,568.7 149.5,570.3 155.5,572.0 161.5,573.8 166.5,575.6 172.5,577.9 178.5,580.2 184.5,580.9 189.5,581.7 195.5,584.1 201.5,589.1 207.5,594.0 212.5,596.4 218.5,598.4 224.5,599.5 230.5,600.1 235.5,598.1 241.5,596.3 247.5,597.5 253.5,602.5 258.5,606.7 264.5,609.1 270.5,606.8 276.5,604.0 281.5,600.5 287.5,596.6 293.5,590.9 299.5,583.8 305.5,575.7 310.5,568.8 316.5,565.0 322.5,564.0 328.5,563.3 333.5,562.5 339.5,562.6 345.5,564.2 351.5,567.7 356.5,570.0 362.5,571.2 368.5,569.5 374.5,569.2 379.5,570.5 385.5,574.3 391.5,578.2 397.5,579.5 402.5,579.0 408.5,576.9 414.5,576.5 420.5,577.4 425.5,578.7 431.5,579.1 437.5,581.5 443.5,587.6 448.5,596.8 454.5,603.8 460.5,607.3 466.5,605.8 471.5,603.4 477.5,600.0 483.5,595.2 489.5,592.8 494.5,591.2 500.5,589.4 506.5,585.1 512.5,580.4 517.5,575.9 523.5,570.7 529.5,565.2 535.5,563.7 541.5,566.9 546.5,571.9 552.5,577.0 558.5,579.6 564.5,581.3 569.5,582.1 575.5,581.7 581.5,579.7 587.5,577.6 592.5,577.9 598.5,581.4 604.5,585.4 610.5,585.7 615.5,583.0 621.5,580.3 627.5,580.1 633.5,581.3 638.5,580.4 644.5,578.8 650.5,575.4 656.5,572.7 661.5,571.4 667.5,575.2 673.5,584.1 679.5,593.0 684.5,599.3 690.5,601.1 696.5,602.1 702.5,603.4 707.5,605.3 713.5,605.4 719.5,601.4 725.5,595.9 730.5,591.9 736.5,589.7 742.5,588.4 748.5,585.9 753.5,583.5 759.5,579.9 765.5,576.5 771.5,571.1 777.5,566.7 782.5,563.9 788.5,564.6 794.5,565.9 800.5,569.1 805.5,572.8 811.5,578.6 817.5,585.4 823.5,590.3 828.5,594.4 834.5,592.0 840.5,589.7 846.5,585.9 851.5,586.6 857.5,588.1 863.5,586.3 869.5,581.7 874.5,574.6 880.5,568.9 886.5,564.1 892.5,562.8 897.5,562.5 903.5,564.6 909.5,567.4 915.5,570.8 920.5,572.5 926.5,573.4 932.5,571.5 938.5,568.6 943.5,565.5 949.5,564.2 955.5,565.7 961.5,568.3 966.5,569.7 972.5,570.3 978.5,571.0 984.5,573.7 989.5,577.3 995.5,579.2 1001.5,580.7 1007.5,581.8 1012.5,583.7 1018.5,585.7 1024.5,587.9 1030.5,591.4 1036.5,595.0 1041.5,597.8 1047.5,601.0 1053.5,604.7 1059.5,607.3 1064.5,609.0 1070.5,608.1 1076.5,606.9 1082.5,605.5 1087.5,604.0 1093.5,603.0 1099.5,601.7 1105.5,599.1 1110.5,596.3 1116.5,592.9 1122.5,590.0 1128.5,587.3 1133.5,585.9 1139.5,584.9 1145.5,583.6 1151.5,578.0 1156.5,572.1 1162.5,566.2 1168.5,563.8 1174.5,563.9 1179.5,565.5 1185.5,568.4 1191.5,573.2 1197.5,579.6 1202.5,585.0 1208.5,588.6 1214.5,590.2 1220.5,593.2 1225.5,597.6 1231.5,603.5 1237.5,607.8 1243.5,607.7 1248.5,603.7 1254.5,598.4 1260.5,594.2 1266.5,590.9 1272.5,588.6 1277.5,589.1 1283.5,591.7 1289.5,594.2 1295.5,591.1 1300.5,583.1 1306.5,574.1 1312.5,566.7 1318.5,565.3 1323.5,565.4 1329.5,567.2 1335.5,568.1 1341.5,569.3 1346.5,568.5 1352.5,567.4 1358.5,564.7 1364.5,566.9 1369.5,573.0 1375.5,583.3 1381.5,591.6 1387.5,596.5 1392.5,596.9 1398.5,596.1 1404.5,596.7 1410.5,597.1 1415.5,596.9 1421.5,593.3 1427.5,588.9" fill="none" stroke="#2f4dff" stroke-width="1.1" stroke-linejoin="round" shape-rendering="auto"/>
<rect x="661" y="405" width="1" height="80" fill="rgba(0,0,0,0.09)"/>
<rect x="661" y="495" width="1" height="53" fill="rgba(0,0,0,0.09)"/>
<rect x="661" y="558" width="1" height="59" fill="rgba(0,0,0,0.09)"/>
<rect x="720" y="398" width="20" height="1" fill="#5f5a5a"/>
<rect x="720" y="400" width="20" height="1" fill="#5f5a5a"/>
<rect x="720" y="402" width="20" height="1" fill="#5f5a5a"/>
<rect x="720" y="488" width="20" height="1" fill="#5f5a5a"/>
<rect x="720" y="490" width="20" height="1" fill="#5f5a5a"/>
<rect x="720" y="492" width="20" height="1" fill="#5f5a5a"/>
<rect x="720" y="551" width="20" height="1" fill="#5f5a5a"/>
<rect x="720" y="553" width="20" height="1" fill="#5f5a5a"/>
<rect x="720" y="555" width="20" height="1" fill="#5f5a5a"/>
<rect x="5" y="5" width="79" height="21" fill="rgba(0,0,0,0.61)"/><rect x="5" y="5" width="2" height="21" fill="#1b7d00"/><text x="16" y="20" font-size="11" font-weight="bold" fill="#ffffff">USD/CAD</text>
<rect x="5" y="32" width="84" height="21" fill="rgba(0,0,0,0.61)"/><rect x="5" y="32" width="2" height="21" fill="#ff0000"/><text x="16" y="46" font-size="11" font-weight="bold" fill="#ffffff">SMA (50,0)</text>
<rect x="5" y="59" width="90" height="21" fill="rgba(0,0,0,0.61)"/><rect x="5" y="59" width="2" height="21" fill="#1f5bb5"/><text x="16" y="73" font-size="11" font-weight="bold" fill="#ffffff">SMA (100,0)</text>
<rect x="5" y="86" width="90" height="21" fill="rgba(0,0,0,0.61)"/><rect x="5" y="86" width="2" height="21" fill="#ff00ff"/><text x="16" y="100" font-size="11" font-weight="bold" fill="#ffffff">SMA (200,0)</text>
<rect x="5" y="409" width="110" height="21" fill="rgba(0,0,0,0.61)"/><rect x="5" y="409" width="2" height="21" fill="#1e3cff"/><text x="16" y="423" font-size="11" font-weight="bold" fill="#ffffff">RSI (14,70,30,1)</text>
<rect x="5" y="499" width="109" height="21" fill="rgba(0,0,0,0.61)"/><rect x="5" y="499" width="2" height="21" fill="#1e3cff"/><text x="16" y="513" font-size="11" font-weight="bold" fill="#ffffff">MACD (12,26,9)</text>
<rect x="5" y="562" width="138" height="21" fill="rgba(0,0,0,0.61)"/><rect x="5" y="562" width="2" height="21" fill="#ff8c1a"/><text x="16" y="576" font-size="11" font-weight="bold" fill="#ffffff">FUSTO (14,3,3,80,20)</text>
<rect x="1462" y="27" width="5" height="1" fill="#a8a8a8"/><text x="1469" y="32.0" font-size="11" fill="#5e5e5e">1.3350</text><rect x="1462" y="65" width="5" height="1" fill="#a8a8a8"/><text x="1469" y="70.0" font-size="11" fill="#5e5e5e">1.3300</text><rect x="1462" y="103" width="5" height="1" fill="#a8a8a8"/><text x="1469" y="108.0" font-size="11" fill="#5e5e5e">1.3250</text><rect x="1462" y="141" width="5" height="1" fill="#a8a8a8"/><text x="1469" y="146.0" font-size="11" fill="#5e5e5e">1.3200</text><rect x="1462" y="179" width="5" height="1" fill="#a8a8a8"/><text x="1469" y="184.0" font-size="11" fill="#5e5e5e">1.3150</text><rect x="1462" y="216" width="5" height="1" fill="#a8a8a8"/><text x="1469" y="221.0" font-size="11" fill="#5e5e5e">1.3100</text><rect x="1462" y="254" width="5" height="1" fill="#a8a8a8"/><text x="1469" y="259.0" font-size="11" fill="#5e5e5e">1.3050</text><rect x="1462" y="292" width="5" height="1" fill="#a8a8a8"/><text x="1469" y="297.0" font-size="11" fill="#5e5e5e">1.3000</text><rect x="1462" y="330" width="5" height="1" fill="#a8a8a8"/><text x="1469" y="335.0" font-size="11" fill="#5e5e5e">1.2950</text><rect x="1462" y="368" width="5" height="1" fill="#a8a8a8"/><text x="1469" y="373.0" font-size="11" fill="#5e5e5e">1.2900</text><rect x="1462" y="445" width="5" height="1" fill="#a8a8a8"/><text x="1469" y="449.0" font-size="11" fill="#5e5e5e">50.0000</text><rect x="1462" y="484" width="5" height="1" fill="#a8a8a8"/><text x="1469" y="488.0" font-size="11" fill="#5e5e5e">0.0000</text><rect x="1462" y="508" width="5" height="1" fill="#a8a8a8"/><text x="1469" y="512.0" font-size="11" fill="#5e5e5e">0.0020</text><rect x="1462" y="531" width="5" height="1" fill="#a8a8a8"/><text x="1469" y="535.0" font-size="11" fill="#5e5e5e">0.0000</text><rect x="1462" y="587" width="5" height="1" fill="#a8a8a8"/><text x="1469" y="592.0" font-size="11" fill="#5e5e5e">50.0000</text><rect x="1462" y="615" width="5" height="1" fill="#a8a8a8"/><text x="1469" y="620.0" font-size="11" fill="#5e5e5e">0.0000</text>
<path d="M1461.2,52.5 L1464.2,49.5 L1464.2,46 Q1464.2,44.5 1465.7,44.5 L1512,44.5 Q1513.5,44.5 1513.5,46 L1513.5,59.5 Q1513.5,61 1512,61 L1465.7,61 Q1464.2,61 1464.2,59.5 L1464.2,55.5 Z" fill="#2c4a75" shape-rendering="auto"/>
<text x="1469" y="57" font-size="11" font-weight="bold" fill="#ffffff">1.33179</text>
<rect x="0" y="618" width="1" height="2" fill="#808080"/><text x="0" y="634" font-size="11" fill="#5e5e5e">Oct</text><rect x="57" y="618" width="1" height="2" fill="#808080"/><text x="57.5" y="634" font-size="11" fill="#5e5e5e" text-anchor="middle">9</text><rect x="92" y="618" width="1" height="2" fill="#808080"/><text x="92.5" y="634" font-size="11" fill="#5e5e5e" text-anchor="middle">10</text><rect x="126" y="618" width="1" height="2" fill="#808080"/><text x="126.5" y="634" font-size="11" fill="#5e5e5e" text-anchor="middle">11</text><rect x="161" y="618" width="1" height="2" fill="#808080"/><text x="161.5" y="634" font-size="11" fill="#5e5e5e" text-anchor="middle">12</text><rect x="195" y="618" width="1" height="2" fill="#808080"/><text x="195.5" y="634" font-size="11" fill="#5e5e5e" text-anchor="middle">14</text><rect x="235" y="618" width="1" height="2" fill="#808080"/><text x="235.5" y="634" font-size="11" fill="#5e5e5e" text-anchor="middle">16</text><rect x="270" y="618" width="1" height="2" fill="#808080"/><text x="270.5" y="634" font-size="11" fill="#5e5e5e" text-anchor="middle">17</text><rect x="304" y="618" width="1" height="2" fill="#808080"/><text x="304.5" y="634" font-size="11" fill="#5e5e5e" text-anchor="middle">18</text><rect x="339" y="618" width="1" height="2" fill="#808080"/><text x="339.5" y="634" font-size="11" fill="#5e5e5e" text-anchor="middle">19</text><rect x="374" y="618" width="1" height="2" fill="#808080"/><text x="374.5" y="634" font-size="11" fill="#5e5e5e" text-anchor="middle">21</text><rect x="414" y="618" width="1" height="2" fill="#808080"/><text x="414.5" y="634" font-size="11" fill="#5e5e5e" text-anchor="middle">23</text><rect x="448" y="618" width="1" height="2" fill="#808080"/><text x="448.5" y="634" font-size="11" fill="#5e5e5e" text-anchor="middle">24</text><rect x="483" y="618" width="1" height="2" fill="#808080"/><text x="483.5" y="634" font-size="11" fill="#5e5e5e" text-anchor="middle">25</text><rect x="517" y="618" width="1" height="2" fill="#808080"/><text x="517.5" y="634" font-size="11" fill="#5e5e5e" text-anchor="middle">26</text><rect x="552" y="618" width="1" height="2" fill="#808080"/><text x="552.5" y="634" font-size="11" fill="#5e5e5e" text-anchor="middle">28</text><rect x="592" y="618" width="1" height="2" fill="#808080"/><text x="592.5" y="634" font-size="11" fill="#5e5e5e" text-anchor="middle">30</text><rect x="627" y="618" width="1" height="2" fill="#808080"/><text x="627.5" y="634" font-size="11" fill="#5e5e5e" text-anchor="middle">31</text><rect x="661" y="618" width="1" height="2" fill="#808080"/><text x="661.5" y="634" font-size="11" fill="#5e5e5e" text-anchor="middle">Nov</text><rect x="696" y="618" width="1" height="2" fill="#808080"/><text x="696.5" y="634" font-size="11" fill="#5e5e5e" text-anchor="middle">2</text><rect x="730" y="618" width="1" height="2" fill="#808080"/><text x="730.5" y="634" font-size="11" fill="#5e5e5e" text-anchor="middle">4</text><rect x="771" y="618" width="1" height="2" fill="#808080"/><text x="771.5" y="634" font-size="11" fill="#5e5e5e" text-anchor="middle">6</text><rect x="805" y="618" width="1" height="2" fill="#808080"/><text x="805.5" y="634" font-size="11" fill="#5e5e5e" text-anchor="middle">7</text><rect x="840" y="618" width="1" height="2" fill="#808080"/><text x="840.5" y="634" font-size="11" fill="#5e5e5e" text-anchor="middle">8</text><rect x="874" y="618" width="1" height="2" fill="#808080"/><text x="874.5" y="634" font-size="11" fill="#5e5e5e" text-anchor="middle">9</text><rect x="909" y="618" width="1" height="2" fill="#808080"/><text x="909.5" y="634" font-size="11" fill="#5e5e5e" text-anchor="middle">11</text><rect x="949" y="618" width="1" height="2" fill="#808080"/><text x="949.5" y="634" font-size="11" fill="#5e5e5e" text-anchor="middle">13</text><rect x="984" y="618" width="1" height="2" fill="#808080"/><text x="984.5" y="634" font-size="11" fill="#5e5e5e" text-anchor="middle">14</text><rect x="1018" y="618" width="1" height="2" fill="#808080"/><text x="1018.5" y="634" font-size="11" fill="#5e5e5e" text-anchor="middle">15</text><rect x="1053" y="618" width="1" height="2" fill="#808080"/><text x="1053.5" y="634" font-size="11" fill="#5e5e5e" text-anchor="middle">16</text><rect x="1087" y="618" width="1" height="2" fill="#808080"/><text x="1087.5" y="634" font-size="11" fill="#5e5e5e" text-anchor="middle">18</text><rect x="1128" y="618" width="1" height="2" fill="#808080"/><text x="1128.5" y="634" font-size="11" fill="#5e5e5e" text-anchor="middle">20</text><rect x="1162" y="618" width="1" height="2" fill="#808080"/><text x="1162.5" y="634" font-size="11" fill="#5e5e5e" text-anchor="middle">21</text><rect x="1197" y="618" width="1" height="2" fill="#808080"/><text x="1197.5" y="634" font-size="11" fill="#5e5e5e" text-anchor="middle">22</text><rect x="1231" y="618" width="1" height="2" fill="#808080"/><text x="1231.5" y="634" font-size="11" fill="#5e5e5e" text-anchor="middle">23</text><rect x="1266" y="618" width="1" height="2" fill="#808080"/><text x="1266.5" y="634" font-size="11" fill="#5e5e5e" text-anchor="middle">25</text><rect x="1306" y="618" width="1" height="2" fill="#808080"/><text x="1306.5" y="634" font-size="11" fill="#5e5e5e" text-anchor="middle">27</text><rect x="1340" y="618" width="1" height="2" fill="#808080"/><text x="1340.5" y="634" font-size="11" fill="#5e5e5e" text-anchor="middle">28</text><rect x="1375" y="618" width="1" height="2" fill="#808080"/><text x="1375.5" y="634" font-size="11" fill="#5e5e5e" text-anchor="middle">29</text><rect x="1410" y="618" width="1" height="2" fill="#808080"/><text x="1410.5" y="634" font-size="11" fill="#5e5e5e" text-anchor="middle">30</text>
</svg></body></html>
